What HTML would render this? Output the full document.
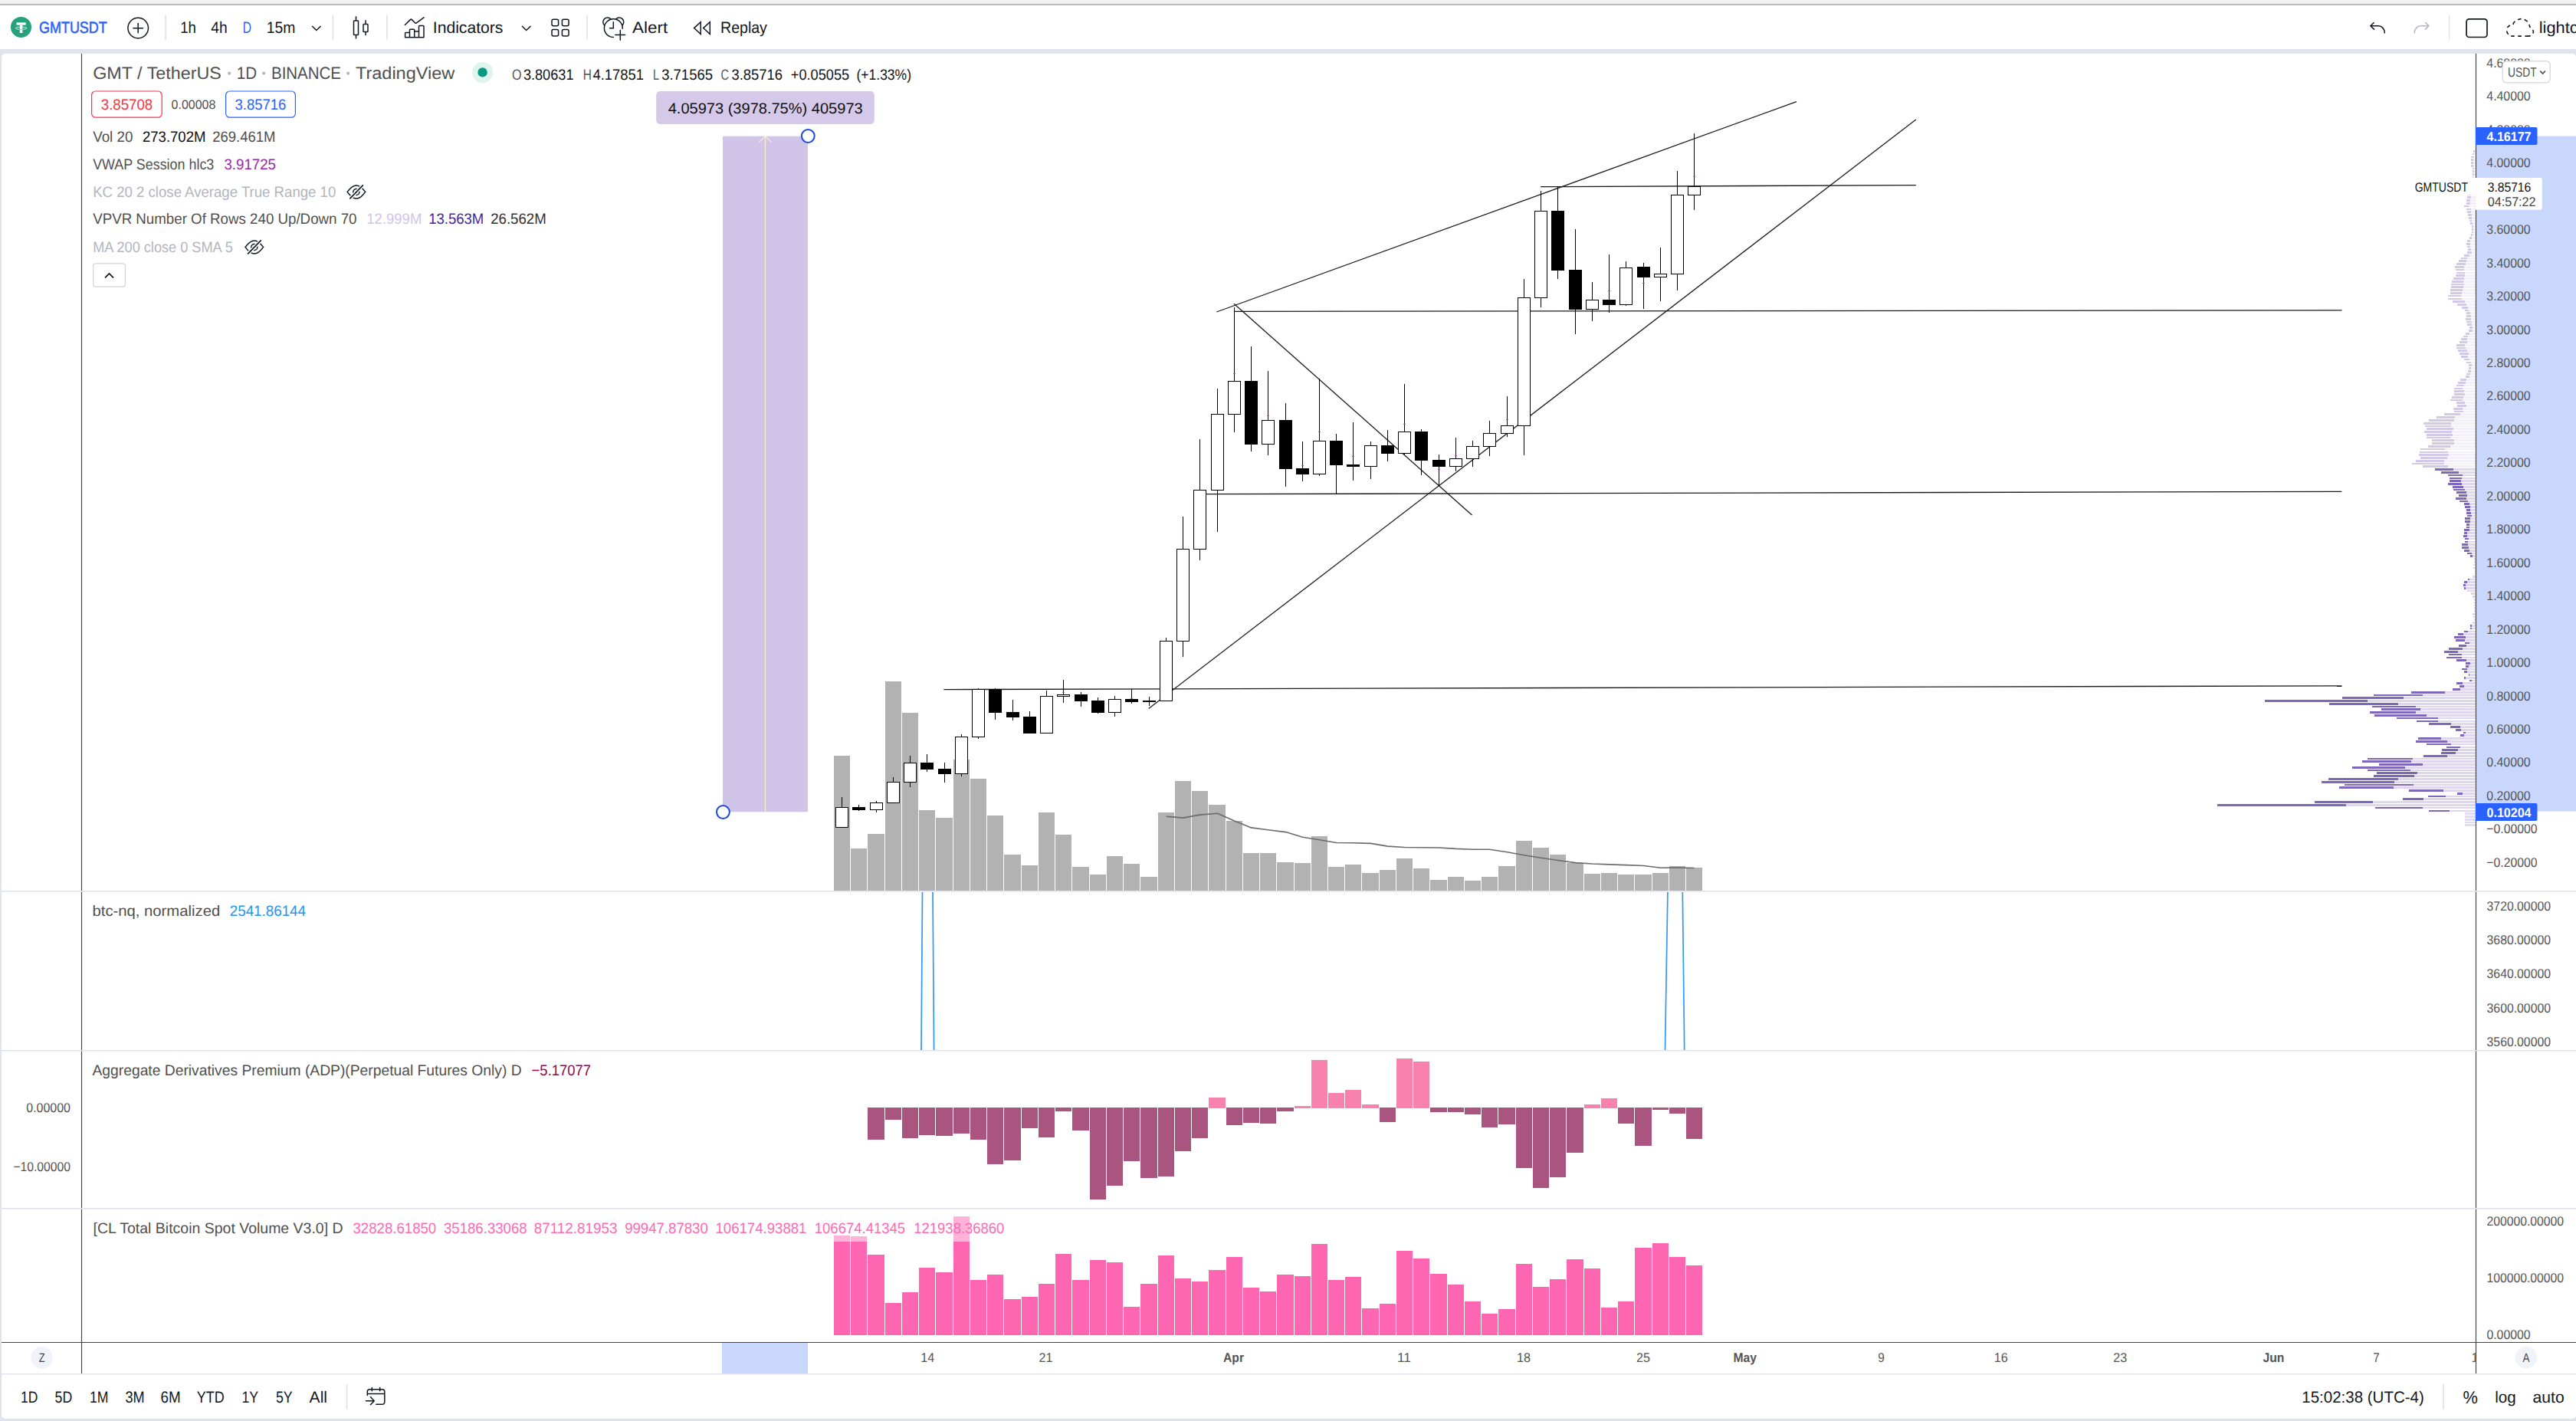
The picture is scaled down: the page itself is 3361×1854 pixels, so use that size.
<!DOCTYPE html>
<html lang="en"><head><meta charset="utf-8"><title>GMTUSDT 3.85716 - TradingView</title>
<style>html,body{margin:0;padding:0;background:#e0e3eb;overflow:hidden}svg{display:block}</style></head>
<body>
<svg width="3361" height="1854" viewBox="0 0 3361 1854" font-family='"Liberation Sans", sans-serif' text-rendering="geometricPrecision">
<rect x="0.00" y="0.00" width="3361.00" height="1854.00" fill="#e0e3eb"/>
<rect x="0.00" y="0.00" width="3361.00" height="5.00" fill="#f1f1f1"/>
<rect x="0.00" y="5.00" width="3361.00" height="2.00" fill="#b9b9b9"/>
<rect x="0.00" y="7.00" width="3361.00" height="57.00" fill="#ffffff"/>
<rect x="2" y="70" width="3359.2" height="1781" rx="5" ry="5" fill="#ffffff"/>
<defs><clipPath id="cm"><rect x="107" y="70" width="3123" height="1092"/></clipPath></defs>
<g shape-rendering="crispEdges">
<rect x="3228.97" y="196.02" width="0.63" height="2.70" fill="#f3f0f9"/>
<rect x="3227.07" y="196.02" width="1.90" height="2.70" fill="#d0c9e7"/>
<rect x="3228.34" y="199.79" width="1.26" height="2.70" fill="#f3f0f9"/>
<rect x="3226.18" y="199.79" width="2.15" height="2.70" fill="#d0c9e7"/>
<rect x="3227.70" y="203.57" width="1.90" height="2.70" fill="#f3f0f9"/>
<rect x="3224.16" y="203.57" width="3.55" height="2.70" fill="#d0c9e7"/>
<rect x="3227.07" y="207.34" width="2.53" height="2.70" fill="#f3f0f9"/>
<rect x="3224.16" y="207.34" width="2.91" height="2.70" fill="#d0c9e7"/>
<rect x="3227.07" y="211.12" width="2.53" height="2.70" fill="#f3f0f9"/>
<rect x="3224.16" y="211.12" width="2.91" height="2.70" fill="#d0c9e7"/>
<rect x="3227.07" y="214.89" width="2.53" height="2.70" fill="#f3f0f9"/>
<rect x="3224.16" y="214.89" width="2.91" height="2.70" fill="#d0c9e7"/>
<rect x="3227.70" y="218.67" width="1.90" height="2.70" fill="#f3f0f9"/>
<rect x="3226.18" y="218.67" width="1.52" height="2.70" fill="#d0c9e7"/>
<rect x="3227.70" y="222.44" width="1.90" height="2.70" fill="#f3f0f9"/>
<rect x="3226.18" y="222.44" width="1.52" height="2.70" fill="#d0c9e7"/>
<rect x="3227.70" y="226.21" width="1.90" height="2.70" fill="#f3f0f9"/>
<rect x="3226.18" y="226.21" width="1.52" height="2.70" fill="#d0c9e7"/>
<rect x="3227.45" y="229.99" width="2.15" height="2.70" fill="#f3f0f9"/>
<rect x="3226.18" y="229.99" width="1.27" height="2.70" fill="#d0c9e7"/>
<rect x="3227.45" y="233.76" width="2.15" height="2.70" fill="#f3f0f9"/>
<rect x="3225.17" y="233.76" width="2.28" height="2.70" fill="#d0c9e7"/>
<rect x="3227.07" y="237.54" width="2.53" height="2.70" fill="#f3f0f9"/>
<rect x="3223.90" y="237.54" width="3.17" height="2.70" fill="#d0c9e7"/>
<rect x="3226.44" y="241.31" width="3.16" height="2.70" fill="#f3f0f9"/>
<rect x="3222.64" y="241.31" width="3.80" height="2.70" fill="#d0c9e7"/>
<rect x="3225.80" y="245.09" width="3.80" height="2.70" fill="#f3f0f9"/>
<rect x="3221.37" y="245.09" width="4.43" height="2.70" fill="#d0c9e7"/>
<rect x="3224.92" y="248.86" width="4.68" height="2.70" fill="#f3f0f9"/>
<rect x="3220.10" y="248.86" width="4.82" height="2.70" fill="#d0c9e7"/>
<rect x="3224.16" y="252.63" width="5.44" height="2.70" fill="#f3f0f9"/>
<rect x="3219.09" y="252.63" width="5.07" height="2.70" fill="#d0c9e7"/>
<rect x="3224.16" y="256.41" width="5.44" height="2.70" fill="#f3f0f9"/>
<rect x="3219.09" y="256.41" width="5.07" height="2.70" fill="#d0c9e7"/>
<rect x="3223.27" y="260.18" width="6.33" height="2.70" fill="#f3f0f9"/>
<rect x="3218.20" y="260.18" width="5.07" height="2.70" fill="#d0c9e7"/>
<rect x="3223.27" y="263.96" width="6.33" height="2.70" fill="#f3f0f9"/>
<rect x="3218.20" y="263.96" width="5.07" height="2.70" fill="#d0c9e7"/>
<rect x="3221.12" y="267.73" width="8.48" height="2.70" fill="#f3f0f9"/>
<rect x="3215.03" y="267.73" width="6.08" height="2.70" fill="#d0c9e7"/>
<rect x="3224.16" y="271.51" width="5.44" height="2.70" fill="#f3f0f9"/>
<rect x="3218.20" y="271.51" width="5.96" height="2.70" fill="#d0c9e7"/>
<rect x="3224.16" y="275.28" width="5.44" height="2.70" fill="#f3f0f9"/>
<rect x="3219.09" y="275.28" width="5.07" height="2.70" fill="#d0c9e7"/>
<rect x="3225.17" y="279.05" width="4.43" height="2.70" fill="#f3f0f9"/>
<rect x="3220.10" y="279.05" width="5.07" height="2.70" fill="#d0c9e7"/>
<rect x="3225.17" y="282.83" width="4.43" height="2.70" fill="#f3f0f9"/>
<rect x="3221.12" y="282.83" width="4.05" height="2.70" fill="#d0c9e7"/>
<rect x="3225.17" y="286.60" width="4.43" height="2.70" fill="#f3f0f9"/>
<rect x="3222.13" y="286.60" width="3.04" height="2.70" fill="#d0c9e7"/>
<rect x="3226.18" y="290.38" width="3.42" height="2.70" fill="#f3f0f9"/>
<rect x="3223.14" y="290.38" width="3.04" height="2.70" fill="#d0c9e7"/>
<rect x="3227.07" y="294.15" width="2.53" height="2.70" fill="#f3f0f9"/>
<rect x="3225.17" y="294.15" width="1.90" height="2.70" fill="#d0c9e7"/>
<rect x="3227.07" y="297.93" width="2.53" height="2.70" fill="#f3f0f9"/>
<rect x="3225.17" y="297.93" width="1.90" height="2.70" fill="#d0c9e7"/>
<rect x="3227.07" y="301.70" width="2.53" height="2.70" fill="#f3f0f9"/>
<rect x="3225.17" y="301.70" width="1.90" height="2.70" fill="#d0c9e7"/>
<rect x="3226.18" y="305.47" width="3.42" height="2.70" fill="#f3f0f9"/>
<rect x="3224.16" y="305.47" width="2.03" height="2.70" fill="#d0c9e7"/>
<rect x="3225.17" y="309.25" width="4.43" height="2.70" fill="#f3f0f9"/>
<rect x="3222.13" y="309.25" width="3.04" height="2.70" fill="#d0c9e7"/>
<rect x="3223.14" y="313.02" width="6.46" height="2.70" fill="#f3f0f9"/>
<rect x="3219.09" y="313.02" width="4.05" height="2.70" fill="#d0c9e7"/>
<rect x="3223.14" y="316.80" width="6.46" height="2.70" fill="#f3f0f9"/>
<rect x="3218.20" y="316.80" width="4.94" height="2.70" fill="#d0c9e7"/>
<rect x="3223.14" y="320.57" width="6.46" height="2.70" fill="#f3f0f9"/>
<rect x="3219.09" y="320.57" width="4.05" height="2.70" fill="#d0c9e7"/>
<rect x="3224.16" y="324.35" width="5.44" height="2.70" fill="#f3f0f9"/>
<rect x="3220.10" y="324.35" width="4.05" height="2.70" fill="#d0c9e7"/>
<rect x="3225.17" y="328.12" width="4.43" height="2.70" fill="#f3f0f9"/>
<rect x="3219.09" y="328.12" width="6.08" height="2.70" fill="#d0c9e7"/>
<rect x="3222.06" y="331.89" width="7.54" height="2.70" fill="#f3f0f9"/>
<rect x="3215.10" y="331.89" width="6.96" height="2.70" fill="#d0c9e7"/>
<rect x="3219.09" y="335.67" width="10.51" height="2.70" fill="#f3f0f9"/>
<rect x="3210.98" y="335.67" width="8.11" height="2.70" fill="#d0c9e7"/>
<rect x="3218.05" y="339.44" width="11.55" height="2.70" fill="#f3f0f9"/>
<rect x="3208.13" y="339.44" width="9.92" height="2.70" fill="#d0c9e7"/>
<rect x="3217.00" y="343.22" width="12.60" height="2.70" fill="#f3f0f9"/>
<rect x="3205.18" y="343.22" width="11.82" height="2.70" fill="#d0c9e7"/>
<rect x="3215.10" y="346.99" width="14.50" height="2.70" fill="#f3f0f9"/>
<rect x="3203.07" y="346.99" width="12.03" height="2.70" fill="#d0c9e7"/>
<rect x="3215.10" y="350.77" width="14.50" height="2.70" fill="#f3f0f9"/>
<rect x="3204.12" y="350.77" width="10.97" height="2.70" fill="#d0c9e7"/>
<rect x="3216.15" y="354.54" width="13.45" height="2.70" fill="#f3f0f9"/>
<rect x="3205.18" y="354.54" width="10.97" height="2.70" fill="#d0c9e7"/>
<rect x="3216.15" y="358.31" width="13.45" height="2.70" fill="#f3f0f9"/>
<rect x="3204.12" y="358.31" width="12.03" height="2.70" fill="#d0c9e7"/>
<rect x="3215.10" y="362.09" width="14.50" height="2.70" fill="#f3f0f9"/>
<rect x="3201.17" y="362.09" width="13.93" height="2.70" fill="#d0c9e7"/>
<rect x="3214.04" y="365.86" width="15.56" height="2.70" fill="#f3f0f9"/>
<rect x="3199.06" y="365.86" width="14.98" height="2.70" fill="#d0c9e7"/>
<rect x="3215.10" y="369.64" width="14.50" height="2.70" fill="#f3f0f9"/>
<rect x="3198.21" y="369.64" width="16.88" height="2.70" fill="#d0c9e7"/>
<rect x="3214.04" y="373.41" width="15.56" height="2.70" fill="#f3f0f9"/>
<rect x="3198.21" y="373.41" width="15.83" height="2.70" fill="#d0c9e7"/>
<rect x="3212.99" y="377.19" width="16.61" height="2.70" fill="#f3f0f9"/>
<rect x="3197.16" y="377.19" width="15.83" height="2.70" fill="#d0c9e7"/>
<rect x="3212.14" y="380.96" width="17.46" height="2.70" fill="#f3f0f9"/>
<rect x="3197.16" y="380.96" width="14.98" height="2.70" fill="#d0c9e7"/>
<rect x="3211.09" y="384.74" width="18.51" height="2.70" fill="#f3f0f9"/>
<rect x="3194.21" y="384.74" width="16.88" height="2.70" fill="#d0c9e7"/>
<rect x="3212.14" y="388.51" width="17.46" height="2.70" fill="#f3f0f9"/>
<rect x="3194.21" y="388.51" width="17.94" height="2.70" fill="#d0c9e7"/>
<rect x="3216.15" y="392.28" width="13.45" height="2.70" fill="#f3f0f9"/>
<rect x="3200.11" y="392.28" width="16.04" height="2.70" fill="#d0c9e7"/>
<rect x="3218.05" y="396.06" width="11.55" height="2.70" fill="#f3f0f9"/>
<rect x="3206.02" y="396.06" width="12.03" height="2.70" fill="#d0c9e7"/>
<rect x="3220.16" y="399.83" width="9.44" height="2.70" fill="#f3f0f9"/>
<rect x="3212.14" y="399.83" width="8.02" height="2.70" fill="#d0c9e7"/>
<rect x="3221.00" y="403.61" width="8.60" height="2.70" fill="#f3f0f9"/>
<rect x="3216.15" y="403.61" width="4.85" height="2.70" fill="#d0c9e7"/>
<rect x="3223.11" y="407.38" width="6.49" height="2.70" fill="#f3f0f9"/>
<rect x="3218.05" y="407.38" width="5.06" height="2.70" fill="#d0c9e7"/>
<rect x="3224.17" y="411.16" width="5.43" height="2.70" fill="#f3f0f9"/>
<rect x="3218.05" y="411.16" width="6.12" height="2.70" fill="#d0c9e7"/>
<rect x="3224.17" y="414.93" width="5.43" height="2.70" fill="#f3f0f9"/>
<rect x="3217.00" y="414.93" width="7.17" height="2.70" fill="#d0c9e7"/>
<rect x="3225.01" y="418.70" width="4.59" height="2.70" fill="#f3f0f9"/>
<rect x="3218.05" y="418.70" width="6.96" height="2.70" fill="#d0c9e7"/>
<rect x="3225.01" y="422.48" width="4.59" height="2.70" fill="#f3f0f9"/>
<rect x="3219.11" y="422.48" width="5.91" height="2.70" fill="#d0c9e7"/>
<rect x="3226.07" y="426.25" width="3.53" height="2.70" fill="#f3f0f9"/>
<rect x="3222.06" y="426.25" width="4.01" height="2.70" fill="#d0c9e7"/>
<rect x="3226.07" y="430.03" width="3.53" height="2.70" fill="#f3f0f9"/>
<rect x="3221.00" y="430.03" width="5.06" height="2.70" fill="#d0c9e7"/>
<rect x="3222.06" y="433.80" width="7.54" height="2.70" fill="#f3f0f9"/>
<rect x="3217.00" y="433.80" width="5.06" height="2.70" fill="#d0c9e7"/>
<rect x="3220.16" y="437.58" width="9.44" height="2.70" fill="#f3f0f9"/>
<rect x="3214.04" y="437.58" width="6.12" height="2.70" fill="#d0c9e7"/>
<rect x="3219.11" y="441.35" width="10.49" height="2.70" fill="#f3f0f9"/>
<rect x="3211.09" y="441.35" width="8.02" height="2.70" fill="#d0c9e7"/>
<rect x="3219.11" y="445.12" width="10.49" height="2.70" fill="#f3f0f9"/>
<rect x="3209.19" y="445.12" width="9.92" height="2.70" fill="#d0c9e7"/>
<rect x="3216.15" y="448.90" width="13.45" height="2.70" fill="#f3f0f9"/>
<rect x="3205.18" y="448.90" width="10.97" height="2.70" fill="#d0c9e7"/>
<rect x="3217.00" y="452.67" width="12.60" height="2.70" fill="#f3f0f9"/>
<rect x="3205.18" y="452.67" width="11.82" height="2.70" fill="#d0c9e7"/>
<rect x="3219.11" y="456.45" width="10.49" height="2.70" fill="#f3f0f9"/>
<rect x="3207.08" y="456.45" width="12.03" height="2.70" fill="#d0c9e7"/>
<rect x="3221.00" y="460.22" width="8.60" height="2.70" fill="#f3f0f9"/>
<rect x="3209.19" y="460.22" width="11.82" height="2.70" fill="#d0c9e7"/>
<rect x="3220.16" y="464.00" width="9.44" height="2.70" fill="#f3f0f9"/>
<rect x="3211.09" y="464.00" width="9.07" height="2.70" fill="#d0c9e7"/>
<rect x="3222.06" y="467.77" width="7.54" height="2.70" fill="#f3f0f9"/>
<rect x="3215.10" y="467.77" width="6.96" height="2.70" fill="#d0c9e7"/>
<rect x="3224.17" y="471.54" width="5.43" height="2.70" fill="#f3f0f9"/>
<rect x="3218.05" y="471.54" width="6.12" height="2.70" fill="#d0c9e7"/>
<rect x="3225.01" y="475.32" width="4.59" height="2.70" fill="#f3f0f9"/>
<rect x="3221.00" y="475.32" width="4.01" height="2.70" fill="#d0c9e7"/>
<rect x="3224.17" y="479.09" width="5.43" height="2.70" fill="#f3f0f9"/>
<rect x="3221.00" y="479.09" width="3.17" height="2.70" fill="#d0c9e7"/>
<rect x="3224.17" y="482.87" width="5.43" height="2.70" fill="#f3f0f9"/>
<rect x="3220.16" y="482.87" width="4.01" height="2.70" fill="#d0c9e7"/>
<rect x="3223.11" y="486.64" width="6.49" height="2.70" fill="#f3f0f9"/>
<rect x="3218.05" y="486.64" width="5.06" height="2.70" fill="#d0c9e7"/>
<rect x="3222.06" y="490.42" width="7.54" height="2.70" fill="#f3f0f9"/>
<rect x="3217.00" y="490.42" width="5.06" height="2.70" fill="#d0c9e7"/>
<rect x="3218.05" y="494.19" width="11.55" height="2.70" fill="#f3f0f9"/>
<rect x="3210.03" y="494.19" width="8.02" height="2.70" fill="#d0c9e7"/>
<rect x="3217.00" y="497.96" width="12.60" height="2.70" fill="#f3f0f9"/>
<rect x="3207.08" y="497.96" width="9.92" height="2.70" fill="#d0c9e7"/>
<rect x="3215.10" y="501.74" width="14.50" height="2.70" fill="#f3f0f9"/>
<rect x="3205.18" y="501.74" width="9.92" height="2.70" fill="#d0c9e7"/>
<rect x="3212.99" y="505.51" width="16.61" height="2.70" fill="#f3f0f9"/>
<rect x="3202.22" y="505.51" width="10.76" height="2.70" fill="#d0c9e7"/>
<rect x="3215.10" y="509.29" width="14.50" height="2.70" fill="#f3f0f9"/>
<rect x="3202.22" y="509.29" width="12.87" height="2.70" fill="#d0c9e7"/>
<rect x="3216.15" y="513.06" width="13.45" height="2.70" fill="#f3f0f9"/>
<rect x="3202.22" y="513.06" width="13.93" height="2.70" fill="#d0c9e7"/>
<rect x="3214.04" y="516.84" width="15.56" height="2.70" fill="#f3f0f9"/>
<rect x="3199.06" y="516.84" width="14.98" height="2.70" fill="#d0c9e7"/>
<rect x="3212.99" y="520.61" width="16.61" height="2.70" fill="#f3f0f9"/>
<rect x="3197.16" y="520.61" width="15.83" height="2.70" fill="#d0c9e7"/>
<rect x="3216.15" y="524.38" width="13.45" height="2.70" fill="#f3f0f9"/>
<rect x="3205.18" y="524.38" width="10.97" height="2.70" fill="#d0c9e7"/>
<rect x="3218.05" y="528.16" width="11.55" height="2.70" fill="#f3f0f9"/>
<rect x="3206.02" y="528.16" width="12.03" height="2.70" fill="#d0c9e7"/>
<rect x="3212.99" y="531.93" width="16.61" height="2.70" fill="#f3f0f9"/>
<rect x="3201.17" y="531.93" width="11.82" height="2.70" fill="#d0c9e7"/>
<rect x="3214.04" y="535.71" width="15.56" height="2.70" fill="#f3f0f9"/>
<rect x="3202.22" y="535.71" width="11.82" height="2.70" fill="#d0c9e7"/>
<rect x="3210.03" y="539.48" width="19.57" height="2.70" fill="#f3f0f9"/>
<rect x="3189.14" y="539.48" width="20.89" height="2.70" fill="#d0c9e7"/>
<rect x="3203.07" y="543.26" width="26.53" height="2.70" fill="#f3f0f9"/>
<rect x="3179.22" y="543.26" width="23.84" height="2.70" fill="#d0c9e7"/>
<rect x="3202.22" y="547.03" width="27.38" height="2.70" fill="#f3f0f9"/>
<rect x="3169.09" y="547.03" width="33.13" height="2.70" fill="#d0c9e7"/>
<rect x="3198.21" y="550.80" width="31.39" height="2.70" fill="#f3f0f9"/>
<rect x="3162.13" y="550.80" width="36.08" height="2.70" fill="#d0c9e7"/>
<rect x="3198.21" y="554.58" width="31.39" height="2.70" fill="#f3f0f9"/>
<rect x="3164.24" y="554.58" width="33.97" height="2.70" fill="#d0c9e7"/>
<rect x="3201.17" y="558.35" width="28.43" height="2.70" fill="#f3f0f9"/>
<rect x="3166.14" y="558.35" width="35.03" height="2.70" fill="#d0c9e7"/>
<rect x="3199.06" y="562.13" width="30.54" height="2.70" fill="#f3f0f9"/>
<rect x="3163.19" y="562.13" width="35.87" height="2.70" fill="#d0c9e7"/>
<rect x="3200.11" y="565.90" width="29.49" height="2.70" fill="#f3f0f9"/>
<rect x="3166.14" y="565.90" width="33.97" height="2.70" fill="#d0c9e7"/>
<rect x="3197.16" y="569.68" width="32.44" height="2.70" fill="#f3f0f9"/>
<rect x="3166.14" y="569.68" width="31.02" height="2.70" fill="#d0c9e7"/>
<rect x="3202.22" y="573.45" width="27.38" height="2.70" fill="#f3f0f9"/>
<rect x="3173.10" y="573.45" width="29.12" height="2.70" fill="#d0c9e7"/>
<rect x="3202.22" y="577.22" width="27.38" height="2.70" fill="#f3f0f9"/>
<rect x="3173.10" y="577.22" width="29.12" height="2.70" fill="#d0c9e7"/>
<rect x="3197.16" y="581.00" width="32.44" height="2.70" fill="#f3f0f9"/>
<rect x="3168.25" y="581.00" width="28.91" height="2.70" fill="#d0c9e7"/>
<rect x="3190.20" y="584.77" width="39.40" height="2.70" fill="#f3f0f9"/>
<rect x="3158.12" y="584.77" width="32.07" height="2.70" fill="#d0c9e7"/>
<rect x="3194.21" y="588.55" width="35.39" height="2.70" fill="#f3f0f9"/>
<rect x="3157.07" y="588.55" width="37.14" height="2.70" fill="#d0c9e7"/>
<rect x="3195.05" y="592.32" width="34.55" height="2.70" fill="#f3f0f9"/>
<rect x="3156.22" y="592.32" width="38.83" height="2.70" fill="#d0c9e7"/>
<rect x="3193.15" y="596.10" width="36.45" height="2.70" fill="#f3f0f9"/>
<rect x="3158.12" y="596.10" width="35.03" height="2.70" fill="#d0c9e7"/>
<rect x="3189.14" y="599.87" width="40.46" height="2.70" fill="#f3f0f9"/>
<rect x="3152.21" y="599.87" width="36.93" height="2.70" fill="#d0c9e7"/>
<rect x="3189.14" y="603.64" width="40.46" height="2.70" fill="#f3f0f9"/>
<rect x="3147.15" y="603.64" width="41.99" height="2.70" fill="#d0c9e7"/>
<rect x="3194.21" y="607.42" width="35.39" height="2.70" fill="#f3f0f9"/>
<rect x="3161.29" y="607.42" width="32.92" height="2.70" fill="#d0c9e7"/>
<rect x="3200.96" y="611.19" width="28.64" height="2.70" fill="#dfd6f0"/>
<rect x="3177.11" y="611.19" width="23.84" height="2.70" fill="#7d68bc"/>
<rect x="3208.13" y="614.97" width="21.47" height="2.70" fill="#dfd6f0"/>
<rect x="3185.13" y="614.97" width="23.00" height="2.70" fill="#7d68bc"/>
<rect x="3212.99" y="618.74" width="16.61" height="2.70" fill="#dfd6f0"/>
<rect x="3193.99" y="618.74" width="18.99" height="2.70" fill="#7d68bc"/>
<rect x="3211.93" y="622.52" width="17.67" height="2.70" fill="#dfd6f0"/>
<rect x="3196.10" y="622.52" width="15.83" height="2.70" fill="#7d68bc"/>
<rect x="3211.09" y="626.29" width="18.51" height="2.70" fill="#dfd6f0"/>
<rect x="3196.10" y="626.29" width="14.98" height="2.70" fill="#7d68bc"/>
<rect x="3211.93" y="630.06" width="17.67" height="2.70" fill="#dfd6f0"/>
<rect x="3193.99" y="630.06" width="17.94" height="2.70" fill="#7d68bc"/>
<rect x="3214.04" y="633.84" width="15.56" height="2.70" fill="#dfd6f0"/>
<rect x="3200.11" y="633.84" width="13.93" height="2.70" fill="#7d68bc"/>
<rect x="3215.94" y="637.61" width="13.66" height="2.70" fill="#dfd6f0"/>
<rect x="3201.17" y="637.61" width="14.77" height="2.70" fill="#7d68bc"/>
<rect x="3218.05" y="641.39" width="11.55" height="2.70" fill="#dfd6f0"/>
<rect x="3205.18" y="641.39" width="12.87" height="2.70" fill="#7d68bc"/>
<rect x="3219.11" y="645.16" width="10.49" height="2.70" fill="#dfd6f0"/>
<rect x="3208.13" y="645.16" width="10.97" height="2.70" fill="#7d68bc"/>
<rect x="3218.05" y="648.94" width="11.55" height="2.70" fill="#dfd6f0"/>
<rect x="3204.12" y="648.94" width="13.93" height="2.70" fill="#7d68bc"/>
<rect x="3219.95" y="652.71" width="9.65" height="2.70" fill="#dfd6f0"/>
<rect x="3209.19" y="652.71" width="10.76" height="2.70" fill="#7d68bc"/>
<rect x="3222.06" y="656.48" width="7.54" height="2.70" fill="#dfd6f0"/>
<rect x="3215.10" y="656.48" width="6.96" height="2.70" fill="#7d68bc"/>
<rect x="3223.11" y="660.26" width="6.49" height="2.70" fill="#dfd6f0"/>
<rect x="3216.15" y="660.26" width="6.96" height="2.70" fill="#7d68bc"/>
<rect x="3223.11" y="664.03" width="6.49" height="2.70" fill="#dfd6f0"/>
<rect x="3218.05" y="664.03" width="5.06" height="2.70" fill="#7d68bc"/>
<rect x="3223.96" y="667.81" width="5.64" height="2.70" fill="#dfd6f0"/>
<rect x="3218.05" y="667.81" width="5.91" height="2.70" fill="#7d68bc"/>
<rect x="3225.01" y="671.58" width="4.59" height="2.70" fill="#dfd6f0"/>
<rect x="3219.11" y="671.58" width="5.91" height="2.70" fill="#7d68bc"/>
<rect x="3223.11" y="675.36" width="6.49" height="2.70" fill="#dfd6f0"/>
<rect x="3216.15" y="675.36" width="6.96" height="2.70" fill="#7d68bc"/>
<rect x="3223.11" y="679.13" width="6.49" height="2.70" fill="#dfd6f0"/>
<rect x="3216.15" y="679.13" width="6.96" height="2.70" fill="#7d68bc"/>
<rect x="3222.06" y="682.90" width="7.54" height="2.70" fill="#dfd6f0"/>
<rect x="3218.05" y="682.90" width="4.01" height="2.70" fill="#7d68bc"/>
<rect x="3222.06" y="686.68" width="7.54" height="2.70" fill="#dfd6f0"/>
<rect x="3218.05" y="686.68" width="4.01" height="2.70" fill="#7d68bc"/>
<rect x="3222.06" y="690.45" width="7.54" height="2.70" fill="#dfd6f0"/>
<rect x="3215.10" y="690.45" width="6.96" height="2.70" fill="#7d68bc"/>
<rect x="3219.11" y="694.23" width="10.49" height="2.70" fill="#dfd6f0"/>
<rect x="3215.10" y="694.23" width="4.01" height="2.70" fill="#7d68bc"/>
<rect x="3219.11" y="698.00" width="10.49" height="2.70" fill="#dfd6f0"/>
<rect x="3214.04" y="698.00" width="5.06" height="2.70" fill="#7d68bc"/>
<rect x="3221.00" y="701.78" width="8.60" height="2.70" fill="#dfd6f0"/>
<rect x="3216.15" y="701.78" width="4.85" height="2.70" fill="#7d68bc"/>
<rect x="3219.95" y="705.55" width="9.65" height="2.70" fill="#dfd6f0"/>
<rect x="3216.15" y="705.55" width="3.80" height="2.70" fill="#7d68bc"/>
<rect x="3219.95" y="709.32" width="9.65" height="2.70" fill="#dfd6f0"/>
<rect x="3212.14" y="709.32" width="7.81" height="2.70" fill="#7d68bc"/>
<rect x="3221.00" y="713.10" width="8.60" height="2.70" fill="#dfd6f0"/>
<rect x="3212.14" y="713.10" width="8.86" height="2.70" fill="#7d68bc"/>
<rect x="3222.06" y="716.87" width="7.54" height="2.70" fill="#dfd6f0"/>
<rect x="3215.10" y="716.87" width="6.96" height="2.70" fill="#7d68bc"/>
<rect x="3225.01" y="720.65" width="4.59" height="2.70" fill="#dfd6f0"/>
<rect x="3219.11" y="720.65" width="5.91" height="2.70" fill="#7d68bc"/>
<rect x="3226.07" y="724.42" width="3.53" height="2.70" fill="#dfd6f0"/>
<rect x="3223.11" y="724.42" width="2.95" height="2.70" fill="#7d68bc"/>
<rect x="3228.18" y="728.20" width="1.42" height="2.70" fill="#dfd6f0"/>
<rect x="3228.18" y="731.97" width="1.42" height="2.70" fill="#dfd6f0"/>
<rect x="3227.12" y="735.74" width="2.48" height="2.70" fill="#dfd6f0"/>
<rect x="3227.12" y="739.52" width="2.48" height="2.70" fill="#dfd6f0"/>
<rect x="3229.23" y="743.29" width="0.37" height="2.70" fill="#dfd6f0"/>
<rect x="3229.23" y="747.07" width="0.37" height="2.70" fill="#dfd6f0"/>
<rect x="3226.07" y="750.84" width="3.53" height="2.70" fill="#dfd6f0"/>
<rect x="3222.06" y="754.62" width="7.54" height="2.70" fill="#dfd6f0"/>
<rect x="3220.16" y="754.62" width="1.90" height="2.70" fill="#7d68bc"/>
<rect x="3219.11" y="758.39" width="10.49" height="2.70" fill="#dfd6f0"/>
<rect x="3215.10" y="758.39" width="4.01" height="2.70" fill="#7d68bc"/>
<rect x="3217.00" y="762.16" width="12.60" height="2.70" fill="#dfd6f0"/>
<rect x="3214.04" y="762.16" width="2.95" height="2.70" fill="#7d68bc"/>
<rect x="3217.00" y="765.94" width="12.60" height="2.70" fill="#dfd6f0"/>
<rect x="3215.10" y="765.94" width="1.90" height="2.70" fill="#7d68bc"/>
<rect x="3219.11" y="769.71" width="10.49" height="2.70" fill="#dfd6f0"/>
<rect x="3224.17" y="773.49" width="5.43" height="2.70" fill="#dfd6f0"/>
<rect x="3226.07" y="777.26" width="3.53" height="2.70" fill="#dfd6f0"/>
<rect x="3228.18" y="781.04" width="1.42" height="2.70" fill="#dfd6f0"/>
<rect x="3228.18" y="784.81" width="1.42" height="2.70" fill="#dfd6f0"/>
<rect x="3228.18" y="788.59" width="1.42" height="2.70" fill="#dfd6f0"/>
<rect x="3228.18" y="792.36" width="1.42" height="2.70" fill="#dfd6f0"/>
<rect x="3228.18" y="796.13" width="1.42" height="2.70" fill="#dfd6f0"/>
<rect x="3226.07" y="799.91" width="3.53" height="2.70" fill="#dfd6f0"/>
<rect x="3227.12" y="803.68" width="2.48" height="2.70" fill="#dfd6f0"/>
<rect x="3228.18" y="807.46" width="1.42" height="2.70" fill="#dfd6f0"/>
<rect x="3226.07" y="811.23" width="3.53" height="2.70" fill="#dfd6f0"/>
<rect x="3225.01" y="815.01" width="4.59" height="2.70" fill="#dfd6f0"/>
<rect x="3223.11" y="815.01" width="1.90" height="2.70" fill="#7d68bc"/>
<rect x="3225.01" y="818.78" width="4.59" height="2.70" fill="#dfd6f0"/>
<rect x="3223.11" y="818.78" width="1.90" height="2.70" fill="#7d68bc"/>
<rect x="3219.95" y="822.55" width="9.65" height="2.70" fill="#dfd6f0"/>
<rect x="3215.10" y="822.55" width="4.85" height="2.70" fill="#7d68bc"/>
<rect x="3214.04" y="826.33" width="15.56" height="2.70" fill="#dfd6f0"/>
<rect x="3207.08" y="826.33" width="6.96" height="2.70" fill="#7d68bc"/>
<rect x="3217.00" y="830.10" width="12.60" height="2.70" fill="#dfd6f0"/>
<rect x="3202.22" y="830.10" width="14.77" height="2.70" fill="#7d68bc"/>
<rect x="3216.15" y="833.88" width="13.45" height="2.70" fill="#dfd6f0"/>
<rect x="3204.12" y="833.88" width="12.03" height="2.70" fill="#7d68bc"/>
<rect x="3222.06" y="837.65" width="7.54" height="2.70" fill="#dfd6f0"/>
<rect x="3216.15" y="837.65" width="5.91" height="2.70" fill="#7d68bc"/>
<rect x="3218.05" y="841.43" width="11.55" height="2.70" fill="#dfd6f0"/>
<rect x="3208.13" y="841.43" width="9.92" height="2.70" fill="#7d68bc"/>
<rect x="3212.99" y="845.20" width="16.61" height="2.70" fill="#dfd6f0"/>
<rect x="3195.05" y="845.20" width="17.94" height="2.70" fill="#7d68bc"/>
<rect x="3207.08" y="848.97" width="22.52" height="2.70" fill="#dfd6f0"/>
<rect x="3189.14" y="848.97" width="17.94" height="2.70" fill="#7d68bc"/>
<rect x="3212.14" y="852.75" width="17.46" height="2.70" fill="#dfd6f0"/>
<rect x="3195.05" y="852.75" width="17.09" height="2.70" fill="#7d68bc"/>
<rect x="3212.14" y="856.52" width="17.46" height="2.70" fill="#dfd6f0"/>
<rect x="3192.10" y="856.52" width="20.05" height="2.70" fill="#7d68bc"/>
<rect x="3218.05" y="860.30" width="11.55" height="2.70" fill="#dfd6f0"/>
<rect x="3205.18" y="860.30" width="12.87" height="2.70" fill="#7d68bc"/>
<rect x="3223.11" y="864.07" width="6.49" height="2.70" fill="#dfd6f0"/>
<rect x="3217.00" y="864.07" width="6.12" height="2.70" fill="#7d68bc"/>
<rect x="3221.00" y="867.85" width="8.60" height="2.70" fill="#dfd6f0"/>
<rect x="3217.00" y="867.85" width="4.01" height="2.70" fill="#7d68bc"/>
<rect x="3219.11" y="871.62" width="10.49" height="2.70" fill="#dfd6f0"/>
<rect x="3212.14" y="871.62" width="6.96" height="2.70" fill="#7d68bc"/>
<rect x="3219.11" y="875.39" width="10.49" height="2.70" fill="#dfd6f0"/>
<rect x="3215.10" y="875.39" width="4.01" height="2.70" fill="#7d68bc"/>
<rect x="3222.21" y="879.17" width="7.39" height="2.70" fill="#dfd6f0"/>
<rect x="3221.13" y="879.17" width="1.08" height="2.70" fill="#7d68bc"/>
<rect x="3217.26" y="882.94" width="12.34" height="2.70" fill="#dfd6f0"/>
<rect x="3214.93" y="882.94" width="2.32" height="2.70" fill="#7d68bc"/>
<rect x="3225.31" y="886.72" width="4.29" height="2.70" fill="#dfd6f0"/>
<rect x="3222.21" y="886.72" width="3.10" height="2.70" fill="#7d68bc"/>
<rect x="3213.23" y="890.49" width="16.37" height="2.70" fill="#dfd6f0"/>
<rect x="3204.87" y="890.49" width="8.36" height="2.70" fill="#7d68bc"/>
<rect x="3215.24" y="894.27" width="14.36" height="2.70" fill="#dfd6f0"/>
<rect x="3209.05" y="894.27" width="6.19" height="2.70" fill="#7d68bc"/>
<rect x="3210.13" y="898.04" width="19.47" height="2.70" fill="#dfd6f0"/>
<rect x="3200.07" y="898.04" width="10.07" height="2.70" fill="#7d68bc"/>
<rect x="3190.16" y="901.81" width="39.44" height="2.70" fill="#dfd6f0"/>
<rect x="3146.03" y="901.81" width="44.13" height="2.70" fill="#7d68bc"/>
<rect x="3161.05" y="905.59" width="68.55" height="2.70" fill="#dfd6f0"/>
<rect x="3097.10" y="905.59" width="63.95" height="2.70" fill="#7d68bc"/>
<rect x="3135.96" y="909.36" width="93.64" height="2.70" fill="#dfd6f0"/>
<rect x="3056.06" y="909.36" width="79.90" height="2.70" fill="#7d68bc"/>
<rect x="3089.04" y="913.14" width="140.56" height="2.70" fill="#dfd6f0"/>
<rect x="2955.10" y="913.14" width="133.94" height="2.70" fill="#7d68bc"/>
<rect x="3128.99" y="916.91" width="100.61" height="2.70" fill="#dfd6f0"/>
<rect x="3039.03" y="916.91" width="89.97" height="2.70" fill="#7d68bc"/>
<rect x="3152.07" y="920.69" width="77.53" height="2.70" fill="#dfd6f0"/>
<rect x="3095.08" y="920.69" width="56.98" height="2.70" fill="#7d68bc"/>
<rect x="3158.10" y="924.46" width="71.50" height="2.70" fill="#dfd6f0"/>
<rect x="3107.01" y="924.46" width="51.10" height="2.70" fill="#7d68bc"/>
<rect x="3152.07" y="928.23" width="77.53" height="2.70" fill="#dfd6f0"/>
<rect x="3091.99" y="928.23" width="60.08" height="2.70" fill="#7d68bc"/>
<rect x="3166.00" y="932.01" width="63.60" height="2.70" fill="#dfd6f0"/>
<rect x="3098.02" y="932.01" width="67.98" height="2.70" fill="#7d68bc"/>
<rect x="3181.02" y="935.78" width="48.58" height="2.70" fill="#dfd6f0"/>
<rect x="3126.98" y="935.78" width="54.04" height="2.70" fill="#7d68bc"/>
<rect x="3181.02" y="939.56" width="48.58" height="2.70" fill="#dfd6f0"/>
<rect x="3152.99" y="939.56" width="28.03" height="2.70" fill="#7d68bc"/>
<rect x="3198.06" y="943.33" width="31.54" height="2.70" fill="#dfd6f0"/>
<rect x="3168.94" y="943.33" width="29.11" height="2.70" fill="#7d68bc"/>
<rect x="3210.13" y="947.11" width="19.47" height="2.70" fill="#dfd6f0"/>
<rect x="3196.97" y="947.11" width="13.16" height="2.70" fill="#7d68bc"/>
<rect x="3211.06" y="950.88" width="18.54" height="2.70" fill="#dfd6f0"/>
<rect x="3204.09" y="950.88" width="6.97" height="2.70" fill="#7d68bc"/>
<rect x="3217.10" y="954.65" width="12.50" height="2.70" fill="#dfd6f0"/>
<rect x="3214.00" y="954.65" width="3.10" height="2.70" fill="#7d68bc"/>
<rect x="3215.24" y="958.43" width="14.36" height="2.70" fill="#dfd6f0"/>
<rect x="3209.98" y="958.43" width="5.26" height="2.70" fill="#7d68bc"/>
<rect x="3185.05" y="962.20" width="44.55" height="2.70" fill="#dfd6f0"/>
<rect x="3155.01" y="962.20" width="30.04" height="2.70" fill="#7d68bc"/>
<rect x="3193.10" y="965.98" width="36.50" height="2.70" fill="#dfd6f0"/>
<rect x="3152.07" y="965.98" width="41.03" height="2.70" fill="#7d68bc"/>
<rect x="3198.06" y="969.75" width="31.54" height="2.70" fill="#dfd6f0"/>
<rect x="3166.00" y="969.75" width="32.05" height="2.70" fill="#7d68bc"/>
<rect x="3210.13" y="973.53" width="19.47" height="2.70" fill="#dfd6f0"/>
<rect x="3192.02" y="973.53" width="18.12" height="2.70" fill="#7d68bc"/>
<rect x="3207.04" y="977.30" width="22.56" height="2.70" fill="#dfd6f0"/>
<rect x="3185.98" y="977.30" width="21.06" height="2.70" fill="#7d68bc"/>
<rect x="3204.09" y="981.07" width="25.51" height="2.70" fill="#dfd6f0"/>
<rect x="3185.05" y="981.07" width="19.05" height="2.70" fill="#7d68bc"/>
<rect x="3193.10" y="984.85" width="36.50" height="2.70" fill="#dfd6f0"/>
<rect x="3161.98" y="984.85" width="31.12" height="2.70" fill="#7d68bc"/>
<rect x="3148.04" y="988.62" width="81.56" height="2.70" fill="#dfd6f0"/>
<rect x="3089.04" y="988.62" width="59.00" height="2.70" fill="#7d68bc"/>
<rect x="3146.03" y="992.40" width="83.57" height="2.70" fill="#dfd6f0"/>
<rect x="3082.07" y="992.40" width="63.95" height="2.70" fill="#7d68bc"/>
<rect x="3161.05" y="996.17" width="68.55" height="2.70" fill="#dfd6f0"/>
<rect x="3104.06" y="996.17" width="56.98" height="2.70" fill="#7d68bc"/>
<rect x="3138.13" y="999.95" width="91.47" height="2.70" fill="#dfd6f0"/>
<rect x="3069.07" y="999.95" width="69.06" height="2.70" fill="#7d68bc"/>
<rect x="3145.10" y="1003.72" width="84.50" height="2.70" fill="#dfd6f0"/>
<rect x="3089.04" y="1003.72" width="56.05" height="2.70" fill="#7d68bc"/>
<rect x="3154.08" y="1007.49" width="75.52" height="2.70" fill="#dfd6f0"/>
<rect x="3100.97" y="1007.49" width="53.11" height="2.70" fill="#7d68bc"/>
<rect x="3150.05" y="1011.27" width="79.55" height="2.70" fill="#dfd6f0"/>
<rect x="3097.10" y="1011.27" width="52.96" height="2.70" fill="#7d68bc"/>
<rect x="3128.99" y="1015.04" width="100.61" height="2.70" fill="#dfd6f0"/>
<rect x="3037.94" y="1015.04" width="91.05" height="2.70" fill="#7d68bc"/>
<rect x="3124.04" y="1018.82" width="105.56" height="2.70" fill="#dfd6f0"/>
<rect x="3028.96" y="1018.82" width="95.08" height="2.70" fill="#7d68bc"/>
<rect x="3149.12" y="1022.59" width="80.48" height="2.70" fill="#dfd6f0"/>
<rect x="3059.00" y="1022.59" width="90.12" height="2.70" fill="#7d68bc"/>
<rect x="3123.11" y="1026.37" width="106.49" height="2.70" fill="#dfd6f0"/>
<rect x="3052.03" y="1026.37" width="71.07" height="2.70" fill="#7d68bc"/>
<rect x="3188.14" y="1030.14" width="41.46" height="2.70" fill="#dfd6f0"/>
<rect x="3142.93" y="1030.14" width="45.22" height="2.70" fill="#7d68bc"/>
<rect x="3213.08" y="1033.91" width="16.52" height="2.70" fill="#dfd6f0"/>
<rect x="3205.95" y="1033.91" width="7.12" height="2.70" fill="#7d68bc"/>
<rect x="3191.09" y="1037.69" width="38.51" height="2.70" fill="#dfd6f0"/>
<rect x="3168.01" y="1037.69" width="23.07" height="2.70" fill="#7d68bc"/>
<rect x="3162.13" y="1041.46" width="67.47" height="2.70" fill="#dfd6f0"/>
<rect x="3135.03" y="1041.46" width="27.10" height="2.70" fill="#7d68bc"/>
<rect x="3096.01" y="1045.24" width="133.59" height="2.70" fill="#dfd6f0"/>
<rect x="3019.98" y="1045.24" width="76.03" height="2.70" fill="#7d68bc"/>
<rect x="3061.02" y="1049.01" width="168.58" height="2.70" fill="#dfd6f0"/>
<rect x="2893.01" y="1049.01" width="168.01" height="2.70" fill="#7d68bc"/>
<rect x="3161.05" y="1052.79" width="68.55" height="2.70" fill="#dfd6f0"/>
<rect x="3098.95" y="1052.79" width="62.09" height="2.70" fill="#7d68bc"/>
<rect x="3196.04" y="1056.56" width="33.56" height="2.70" fill="#dfd6f0"/>
<rect x="3168.94" y="1056.56" width="27.10" height="2.70" fill="#7d68bc"/>
<rect x="3216.02" y="1060.33" width="13.58" height="2.70" fill="#e2dcf2"/>
<rect x="3216.02" y="1064.11" width="13.58" height="2.70" fill="#e2dcf2"/>
<rect x="3216.02" y="1067.88" width="13.58" height="2.70" fill="#e2dcf2"/>
<rect x="3216.02" y="1071.66" width="13.58" height="2.70" fill="#e2dcf2"/>
<rect x="3216.02" y="1075.43" width="13.58" height="2.70" fill="#e2dcf2"/>
</g>
<rect x="943.00" y="177.50" width="111.00" height="882.00" fill="#d0c4e8"/>
<line x1="943.00" y1="177.50" x2="1054.00" y2="177.50" stroke="#ffeccb" stroke-width="1.2"/>
<line x1="943.00" y1="1059.50" x2="1054.00" y2="1059.50" stroke="#ffeccb" stroke-width="1.2"/>
<line x1="998.50" y1="177.50" x2="998.50" y2="1059.50" stroke="#ffeccb" stroke-width="1.2"/>
<path d="M990.5 185.5 L998.5 177.5 L1006.5 185.5" fill="none" stroke="#ffeccb" stroke-width="1.2"/>
<g shape-rendering="crispEdges">
<rect x="1088.00" y="986.00" width="21.00" height="176.00" fill="#b2b2b2"/>
<rect x="1110.00" y="1107.20" width="21.00" height="54.80" fill="#b2b2b2"/>
<rect x="1132.00" y="1088.10" width="22.00" height="73.90" fill="#b2b2b2"/>
<rect x="1155.00" y="889.10" width="21.00" height="272.90" fill="#b2b2b2"/>
<rect x="1177.00" y="929.90" width="21.00" height="232.10" fill="#b2b2b2"/>
<rect x="1199.00" y="1057.10" width="21.00" height="104.90" fill="#b2b2b2"/>
<rect x="1221.00" y="1067.10" width="22.00" height="94.90" fill="#b2b2b2"/>
<rect x="1244.00" y="991.00" width="21.00" height="171.00" fill="#b2b2b2"/>
<rect x="1266.00" y="1016.10" width="21.00" height="145.90" fill="#b2b2b2"/>
<rect x="1288.00" y="1064.10" width="21.00" height="97.90" fill="#b2b2b2"/>
<rect x="1310.00" y="1115.10" width="22.00" height="46.90" fill="#b2b2b2"/>
<rect x="1333.00" y="1129.00" width="21.00" height="33.00" fill="#b2b2b2"/>
<rect x="1355.00" y="1060.10" width="21.00" height="101.90" fill="#b2b2b2"/>
<rect x="1377.00" y="1089.00" width="21.00" height="73.00" fill="#b2b2b2"/>
<rect x="1399.00" y="1131.10" width="22.00" height="30.90" fill="#b2b2b2"/>
<rect x="1422.00" y="1141.20" width="21.00" height="20.80" fill="#b2b2b2"/>
<rect x="1444.00" y="1117.20" width="21.00" height="44.80" fill="#b2b2b2"/>
<rect x="1466.00" y="1127.20" width="21.00" height="34.80" fill="#b2b2b2"/>
<rect x="1488.00" y="1144.20" width="22.00" height="17.80" fill="#b2b2b2"/>
<rect x="1511.00" y="1060.10" width="21.00" height="101.90" fill="#b2b2b2"/>
<rect x="1533.00" y="1019.10" width="21.00" height="142.90" fill="#b2b2b2"/>
<rect x="1555.00" y="1032.10" width="21.00" height="129.90" fill="#b2b2b2"/>
<rect x="1577.00" y="1050.10" width="22.00" height="111.90" fill="#b2b2b2"/>
<rect x="1600.00" y="1071.00" width="21.00" height="91.00" fill="#b2b2b2"/>
<rect x="1622.00" y="1113.20" width="21.00" height="48.80" fill="#b2b2b2"/>
<rect x="1644.00" y="1113.20" width="21.00" height="48.80" fill="#b2b2b2"/>
<rect x="1666.00" y="1125.10" width="22.00" height="36.90" fill="#b2b2b2"/>
<rect x="1689.00" y="1126.00" width="21.00" height="36.00" fill="#b2b2b2"/>
<rect x="1711.00" y="1091.10" width="21.00" height="70.90" fill="#b2b2b2"/>
<rect x="1733.00" y="1131.10" width="21.00" height="30.90" fill="#b2b2b2"/>
<rect x="1755.00" y="1128.10" width="21.00" height="33.90" fill="#b2b2b2"/>
<rect x="1777.00" y="1139.10" width="22.00" height="22.90" fill="#b2b2b2"/>
<rect x="1800.00" y="1135.10" width="21.00" height="26.90" fill="#b2b2b2"/>
<rect x="1822.00" y="1120.20" width="21.00" height="41.80" fill="#b2b2b2"/>
<rect x="1844.00" y="1133.00" width="21.00" height="29.00" fill="#b2b2b2"/>
<rect x="1866.00" y="1148.10" width="22.00" height="13.90" fill="#b2b2b2"/>
<rect x="1889.00" y="1144.20" width="21.00" height="17.80" fill="#b2b2b2"/>
<rect x="1911.00" y="1149.10" width="21.00" height="12.90" fill="#b2b2b2"/>
<rect x="1933.00" y="1144.20" width="21.00" height="17.80" fill="#b2b2b2"/>
<rect x="1955.00" y="1130.20" width="22.00" height="31.80" fill="#b2b2b2"/>
<rect x="1978.00" y="1097.10" width="21.00" height="64.90" fill="#b2b2b2"/>
<rect x="2000.00" y="1106.20" width="21.00" height="55.80" fill="#b2b2b2"/>
<rect x="2022.00" y="1115.10" width="21.00" height="46.90" fill="#b2b2b2"/>
<rect x="2044.00" y="1126.00" width="22.00" height="36.00" fill="#b2b2b2"/>
<rect x="2067.00" y="1140.00" width="21.00" height="22.00" fill="#b2b2b2"/>
<rect x="2089.00" y="1139.10" width="21.00" height="22.90" fill="#b2b2b2"/>
<rect x="2111.00" y="1141.20" width="21.00" height="20.80" fill="#b2b2b2"/>
<rect x="2133.00" y="1141.20" width="22.00" height="20.80" fill="#b2b2b2"/>
<rect x="2156.00" y="1139.10" width="21.00" height="22.90" fill="#b2b2b2"/>
<rect x="2178.00" y="1130.20" width="21.00" height="31.80" fill="#b2b2b2"/>
<rect x="2200.00" y="1132.10" width="21.00" height="29.90" fill="#b2b2b2"/>
</g>
<line x1="1231.40" y1="899.60" x2="3055.50" y2="894.80" stroke="#1c1c1c" stroke-width="1.3"/>
<line x1="1573.40" y1="644.70" x2="3055.30" y2="641.30" stroke="#1c1c1c" stroke-width="1.3"/>
<line x1="1610.40" y1="406.30" x2="3055.50" y2="404.90" stroke="#1c1c1c" stroke-width="1.3"/>
<line x1="2010.10" y1="243.70" x2="2499.80" y2="241.60" stroke="#1c1c1c" stroke-width="1.3"/>
<line x1="1587.40" y1="407.00" x2="2344.00" y2="132.60" stroke="#1c1c1c" stroke-width="1.3"/>
<line x1="1498.70" y1="924.40" x2="2499.80" y2="156.10" stroke="#1c1c1c" stroke-width="1.3"/>
<line x1="1610.00" y1="396.20" x2="1920.50" y2="672.00" stroke="#1c1c1c" stroke-width="1.3"/>
<g shape-rendering="crispEdges">
<rect x="1098.00" y="1040.00" width="1.40" height="40.00" fill="#000"/>
<rect x="1090.00" y="1053.00" width="17.00" height="27.00" fill="#000"/>
<rect x="1091.10" y="1054.10" width="14.80" height="24.80" fill="#fff"/>
<rect x="1120.00" y="1050.00" width="1.40" height="8.00" fill="#000"/>
<rect x="1112.00" y="1053.00" width="17.00" height="4.00" fill="#000"/>
<rect x="1143.00" y="1045.00" width="1.40" height="15.00" fill="#000"/>
<rect x="1135.00" y="1047.00" width="17.00" height="10.00" fill="#000"/>
<rect x="1136.10" y="1048.10" width="14.80" height="7.80" fill="#fff"/>
<rect x="1165.00" y="1014.00" width="1.40" height="34.00" fill="#000"/>
<rect x="1157.00" y="1020.00" width="17.00" height="28.00" fill="#000"/>
<rect x="1158.10" y="1021.10" width="14.80" height="25.80" fill="#fff"/>
<rect x="1187.00" y="986.00" width="1.40" height="41.00" fill="#000"/>
<rect x="1179.00" y="995.00" width="17.00" height="26.00" fill="#000"/>
<rect x="1180.10" y="996.10" width="14.80" height="23.80" fill="#fff"/>
<rect x="1209.00" y="984.00" width="1.40" height="23.00" fill="#000"/>
<rect x="1201.00" y="995.00" width="17.00" height="9.00" fill="#000"/>
<rect x="1232.00" y="995.00" width="1.40" height="26.00" fill="#000"/>
<rect x="1224.00" y="1003.00" width="17.00" height="7.00" fill="#000"/>
<rect x="1254.00" y="958.00" width="1.40" height="55.00" fill="#000"/>
<rect x="1246.00" y="961.00" width="17.00" height="49.00" fill="#000"/>
<rect x="1247.10" y="962.10" width="14.80" height="46.80" fill="#fff"/>
<rect x="1276.00" y="898.00" width="1.40" height="66.00" fill="#000"/>
<rect x="1268.00" y="899.00" width="17.00" height="63.00" fill="#000"/>
<rect x="1269.10" y="900.10" width="14.80" height="60.80" fill="#fff"/>
<rect x="1298.00" y="898.00" width="1.40" height="41.00" fill="#000"/>
<rect x="1290.00" y="899.00" width="17.00" height="31.00" fill="#000"/>
<rect x="1321.00" y="913.00" width="1.40" height="27.00" fill="#000"/>
<rect x="1313.00" y="929.00" width="17.00" height="7.00" fill="#000"/>
<rect x="1343.00" y="928.00" width="1.40" height="29.00" fill="#000"/>
<rect x="1335.00" y="935.00" width="17.00" height="22.00" fill="#000"/>
<rect x="1365.00" y="901.00" width="1.40" height="56.00" fill="#000"/>
<rect x="1357.00" y="908.00" width="17.00" height="49.00" fill="#000"/>
<rect x="1358.10" y="909.10" width="14.80" height="46.80" fill="#fff"/>
<rect x="1387.00" y="887.00" width="1.40" height="30.00" fill="#000"/>
<rect x="1379.00" y="906.00" width="17.00" height="3.00" fill="#000"/>
<rect x="1380.10" y="907.10" width="14.80" height="0.80" fill="#fff"/>
<rect x="1410.00" y="903.00" width="1.40" height="19.00" fill="#000"/>
<rect x="1402.00" y="906.00" width="17.00" height="9.00" fill="#000"/>
<rect x="1432.00" y="910.00" width="1.40" height="21.00" fill="#000"/>
<rect x="1424.00" y="914.00" width="17.00" height="16.00" fill="#000"/>
<rect x="1454.00" y="908.00" width="1.40" height="27.00" fill="#000"/>
<rect x="1446.00" y="912.00" width="17.00" height="18.00" fill="#000"/>
<rect x="1447.10" y="913.10" width="14.80" height="15.80" fill="#fff"/>
<rect x="1476.00" y="899.00" width="1.40" height="19.00" fill="#000"/>
<rect x="1468.00" y="912.00" width="17.00" height="4.00" fill="#000"/>
<rect x="1499.00" y="909.00" width="1.40" height="12.00" fill="#000"/>
<rect x="1491.00" y="914.00" width="17.00" height="2.00" fill="#000"/>
<rect x="1521.00" y="832.00" width="1.40" height="83.00" fill="#000"/>
<rect x="1513.00" y="836.00" width="17.00" height="79.00" fill="#000"/>
<rect x="1514.10" y="837.10" width="14.80" height="76.80" fill="#fff"/>
<rect x="1543.00" y="674.00" width="1.40" height="183.00" fill="#000"/>
<rect x="1535.00" y="716.00" width="17.00" height="121.00" fill="#000"/>
<rect x="1536.10" y="717.10" width="14.80" height="118.80" fill="#fff"/>
<rect x="1565.00" y="573.00" width="1.40" height="158.00" fill="#000"/>
<rect x="1557.00" y="639.00" width="17.00" height="78.00" fill="#000"/>
<rect x="1558.10" y="640.10" width="14.80" height="75.80" fill="#fff"/>
<rect x="1588.00" y="507.00" width="1.40" height="187.00" fill="#000"/>
<rect x="1580.00" y="540.00" width="17.00" height="100.00" fill="#000"/>
<rect x="1581.10" y="541.10" width="14.80" height="97.80" fill="#fff"/>
<rect x="1610.00" y="401.00" width="1.40" height="163.00" fill="#000"/>
<rect x="1602.00" y="497.00" width="17.00" height="44.00" fill="#000"/>
<rect x="1603.10" y="498.10" width="14.80" height="41.80" fill="#fff"/>
<rect x="1632.00" y="452.00" width="1.40" height="137.00" fill="#000"/>
<rect x="1624.00" y="497.00" width="17.00" height="83.00" fill="#000"/>
<rect x="1654.00" y="484.00" width="1.40" height="110.00" fill="#000"/>
<rect x="1646.00" y="548.00" width="17.00" height="32.00" fill="#000"/>
<rect x="1647.10" y="549.10" width="14.80" height="29.80" fill="#fff"/>
<rect x="1677.00" y="526.00" width="1.40" height="109.00" fill="#000"/>
<rect x="1669.00" y="548.00" width="17.00" height="64.00" fill="#000"/>
<rect x="1699.00" y="576.00" width="1.40" height="52.00" fill="#000"/>
<rect x="1691.00" y="611.00" width="17.00" height="8.00" fill="#000"/>
<rect x="1721.00" y="494.00" width="1.40" height="127.00" fill="#000"/>
<rect x="1713.00" y="575.00" width="17.00" height="44.00" fill="#000"/>
<rect x="1714.10" y="576.10" width="14.80" height="41.80" fill="#fff"/>
<rect x="1743.00" y="566.00" width="1.40" height="78.00" fill="#000"/>
<rect x="1735.00" y="575.00" width="17.00" height="32.00" fill="#000"/>
<rect x="1765.00" y="551.00" width="1.40" height="76.00" fill="#000"/>
<rect x="1757.00" y="606.00" width="17.00" height="3.00" fill="#000"/>
<rect x="1788.00" y="576.00" width="1.40" height="49.00" fill="#000"/>
<rect x="1780.00" y="581.00" width="17.00" height="28.00" fill="#000"/>
<rect x="1781.10" y="582.10" width="14.80" height="25.80" fill="#fff"/>
<rect x="1810.00" y="561.00" width="1.40" height="41.00" fill="#000"/>
<rect x="1802.00" y="581.00" width="17.00" height="11.00" fill="#000"/>
<rect x="1832.00" y="501.00" width="1.40" height="92.00" fill="#000"/>
<rect x="1824.00" y="563.00" width="17.00" height="29.00" fill="#000"/>
<rect x="1825.10" y="564.10" width="14.80" height="26.80" fill="#fff"/>
<rect x="1854.00" y="560.00" width="1.40" height="60.00" fill="#000"/>
<rect x="1846.00" y="563.00" width="17.00" height="38.00" fill="#000"/>
<rect x="1877.00" y="593.00" width="1.40" height="40.00" fill="#000"/>
<rect x="1869.00" y="600.00" width="17.00" height="9.00" fill="#000"/>
<rect x="1899.00" y="571.00" width="1.40" height="44.00" fill="#000"/>
<rect x="1891.00" y="598.00" width="17.00" height="11.00" fill="#000"/>
<rect x="1892.10" y="599.10" width="14.80" height="8.80" fill="#fff"/>
<rect x="1921.00" y="575.00" width="1.40" height="34.00" fill="#000"/>
<rect x="1913.00" y="582.00" width="17.00" height="17.00" fill="#000"/>
<rect x="1914.10" y="583.10" width="14.80" height="14.80" fill="#fff"/>
<rect x="1943.00" y="549.00" width="1.40" height="46.00" fill="#000"/>
<rect x="1935.00" y="565.00" width="17.00" height="18.00" fill="#000"/>
<rect x="1936.10" y="566.10" width="14.80" height="15.80" fill="#fff"/>
<rect x="1966.00" y="517.00" width="1.40" height="53.00" fill="#000"/>
<rect x="1958.00" y="555.00" width="17.00" height="11.00" fill="#000"/>
<rect x="1959.10" y="556.10" width="14.80" height="8.80" fill="#fff"/>
<rect x="1988.00" y="364.00" width="1.40" height="230.00" fill="#000"/>
<rect x="1980.00" y="388.00" width="17.00" height="168.00" fill="#000"/>
<rect x="1981.10" y="389.10" width="14.80" height="165.80" fill="#fff"/>
<rect x="2010.00" y="249.00" width="1.40" height="152.00" fill="#000"/>
<rect x="2002.00" y="275.00" width="17.00" height="114.00" fill="#000"/>
<rect x="2003.10" y="276.10" width="14.80" height="111.80" fill="#fff"/>
<rect x="2032.00" y="243.00" width="1.40" height="121.00" fill="#000"/>
<rect x="2024.00" y="275.00" width="17.00" height="78.00" fill="#000"/>
<rect x="2055.00" y="299.00" width="1.40" height="137.00" fill="#000"/>
<rect x="2047.00" y="352.00" width="17.00" height="52.00" fill="#000"/>
<rect x="2077.00" y="368.00" width="1.40" height="51.00" fill="#000"/>
<rect x="2069.00" y="391.00" width="17.00" height="13.00" fill="#000"/>
<rect x="2070.10" y="392.10" width="14.80" height="10.80" fill="#fff"/>
<rect x="2099.00" y="332.00" width="1.40" height="76.00" fill="#000"/>
<rect x="2091.00" y="391.00" width="17.00" height="7.00" fill="#000"/>
<rect x="2121.00" y="341.00" width="1.40" height="58.00" fill="#000"/>
<rect x="2113.00" y="349.00" width="17.00" height="49.00" fill="#000"/>
<rect x="2114.10" y="350.10" width="14.80" height="46.80" fill="#fff"/>
<rect x="2144.00" y="343.00" width="1.40" height="60.00" fill="#000"/>
<rect x="2136.00" y="348.00" width="17.00" height="14.00" fill="#000"/>
<rect x="2166.00" y="323.00" width="1.40" height="70.00" fill="#000"/>
<rect x="2158.00" y="357.00" width="17.00" height="5.00" fill="#000"/>
<rect x="2159.10" y="358.10" width="14.80" height="2.80" fill="#fff"/>
<rect x="2188.00" y="223.00" width="1.40" height="156.00" fill="#000"/>
<rect x="2180.00" y="254.00" width="17.00" height="104.00" fill="#000"/>
<rect x="2181.10" y="255.10" width="14.80" height="101.80" fill="#fff"/>
<rect x="2210.00" y="174.00" width="1.40" height="100.00" fill="#000"/>
<rect x="2202.00" y="243.00" width="17.00" height="12.00" fill="#000"/>
<rect x="2203.10" y="244.10" width="14.80" height="9.80" fill="#fff"/>
</g>
<rect x="1386.00" y="902.80" width="3.00" height="1.00" fill="#ad4fc0"/>
<rect x="1475.00" y="910.90" width="3.00" height="1.00" fill="#ad4fc0"/>
<rect x="1609.00" y="486.90" width="3.00" height="1.00" fill="#ad4fc0"/>
<rect x="1653.00" y="541.90" width="3.00" height="1.00" fill="#ad4fc0"/>
<rect x="1698.00" y="607.10" width="3.00" height="1.00" fill="#ad4fc0"/>
<rect x="1720.00" y="562.90" width="3.00" height="1.00" fill="#ad4fc0"/>
<rect x="1764.00" y="594.90" width="3.00" height="1.00" fill="#ad4fc0"/>
<rect x="1831.00" y="552.90" width="3.00" height="1.00" fill="#ad4fc0"/>
<rect x="1876.00" y="612.00" width="3.00" height="1.00" fill="#ad4fc0"/>
<rect x="1898.00" y="593.90" width="3.00" height="1.00" fill="#ad4fc0"/>
<rect x="1965.00" y="546.90" width="3.00" height="1.00" fill="#ad4fc0"/>
<rect x="2098.00" y="378.80" width="3.00" height="1.00" fill="#ad4fc0"/>
<rect x="2143.00" y="369.00" width="3.00" height="1.00" fill="#ad4fc0"/>
<rect x="2209.00" y="229.70" width="3.00" height="1.00" fill="#ad4fc0"/>
<polyline points="1521.5,1065.2 1543.5,1067.1 1565.5,1063.1 1588.5,1061.3 1610.5,1071.0 1632.5,1079.9 1654.5,1082.7 1677.5,1085.6 1699.5,1092.2 1721.5,1095.7 1743.5,1099.5 1765.5,1099.7 1788.5,1100.4 1810.5,1104.1 1832.5,1105.5 1854.5,1105.8 1877.5,1106.0 1899.5,1107.4 1921.5,1108.3 1943.5,1108.3 1966.5,1111.8 1988.5,1115.8 2010.5,1119.3 2032.5,1122.5 2055.5,1125.6 2077.5,1127.0 2099.5,1127.9 2121.5,1128.6 2144.5,1129.5 2166.5,1132.3 2188.5,1132.1 2210.5,1132.5" fill="none" stroke="#6b6b6b" stroke-width="1.6" stroke-linejoin="round"/>
<circle cx="1054.3" cy="177.5" r="8.4" fill="#fff" stroke="#1848e8" stroke-width="2"/>
<circle cx="943.4" cy="1059.5" r="8.4" fill="#fff" stroke="#1848e8" stroke-width="2"/>
<rect x="856.2" y="119" width="284.6" height="43" rx="5" ry="5" fill="#d5c9ea"/>
<line x1="1203.50" y1="1164.00" x2="1202.00" y2="1370.00" stroke="#3497f1" stroke-width="1.7"/>
<line x1="1217.00" y1="1164.00" x2="1218.60" y2="1370.00" stroke="#3497f1" stroke-width="1.7"/>
<line x1="2175.90" y1="1164.00" x2="2172.50" y2="1370.00" stroke="#3497f1" stroke-width="1.7"/>
<line x1="2195.30" y1="1164.00" x2="2197.70" y2="1370.00" stroke="#3497f1" stroke-width="1.7"/>
<g shape-rendering="crispEdges">
<rect x="1132.00" y="1445.00" width="22.00" height="41.90" fill="#aa5580"/>
<rect x="1155.00" y="1445.00" width="21.00" height="15.80" fill="#aa5580"/>
<rect x="1177.00" y="1445.00" width="21.00" height="39.80" fill="#aa5580"/>
<rect x="1199.00" y="1445.00" width="21.00" height="35.90" fill="#aa5580"/>
<rect x="1221.00" y="1445.00" width="22.00" height="37.00" fill="#aa5580"/>
<rect x="1244.00" y="1445.00" width="21.00" height="33.80" fill="#aa5580"/>
<rect x="1266.00" y="1445.00" width="21.00" height="41.90" fill="#aa5580"/>
<rect x="1288.00" y="1445.00" width="21.00" height="74.10" fill="#aa5580"/>
<rect x="1310.00" y="1445.00" width="22.00" height="69.00" fill="#aa5580"/>
<rect x="1333.00" y="1445.00" width="21.00" height="26.80" fill="#aa5580"/>
<rect x="1355.00" y="1445.00" width="21.00" height="38.90" fill="#aa5580"/>
<rect x="1377.00" y="1445.00" width="21.00" height="4.90" fill="#aa5580"/>
<rect x="1399.00" y="1445.00" width="22.00" height="29.80" fill="#aa5580"/>
<rect x="1422.00" y="1445.00" width="21.00" height="120.00" fill="#aa5580"/>
<rect x="1444.00" y="1445.00" width="21.00" height="102.00" fill="#aa5580"/>
<rect x="1466.00" y="1445.00" width="21.00" height="69.90" fill="#aa5580"/>
<rect x="1488.00" y="1445.00" width="22.00" height="92.00" fill="#aa5580"/>
<rect x="1511.00" y="1445.00" width="21.00" height="89.90" fill="#aa5580"/>
<rect x="1533.00" y="1445.00" width="21.00" height="56.80" fill="#aa5580"/>
<rect x="1555.00" y="1445.00" width="21.00" height="39.80" fill="#aa5580"/>
<rect x="1577.00" y="1432.00" width="22.00" height="14.00" fill="#f881ad"/>
<rect x="1600.00" y="1445.00" width="21.00" height="22.80" fill="#aa5580"/>
<rect x="1622.00" y="1445.00" width="21.00" height="19.80" fill="#aa5580"/>
<rect x="1644.00" y="1445.00" width="21.00" height="20.70" fill="#aa5580"/>
<rect x="1666.00" y="1445.00" width="22.00" height="4.90" fill="#aa5580"/>
<rect x="1689.00" y="1443.10" width="21.00" height="2.90" fill="#f881ad"/>
<rect x="1711.00" y="1383.00" width="21.00" height="63.00" fill="#f881ad"/>
<rect x="1733.00" y="1426.10" width="21.00" height="19.90" fill="#f881ad"/>
<rect x="1755.00" y="1421.90" width="21.00" height="24.10" fill="#f881ad"/>
<rect x="1777.00" y="1441.00" width="22.00" height="5.00" fill="#f881ad"/>
<rect x="1800.00" y="1445.00" width="21.00" height="18.90" fill="#aa5580"/>
<rect x="1822.00" y="1380.90" width="21.00" height="65.10" fill="#f881ad"/>
<rect x="1844.00" y="1384.90" width="21.00" height="61.10" fill="#f881ad"/>
<rect x="1866.00" y="1445.00" width="22.00" height="5.80" fill="#aa5580"/>
<rect x="1889.00" y="1445.00" width="21.00" height="5.80" fill="#aa5580"/>
<rect x="1911.00" y="1445.00" width="21.00" height="8.90" fill="#aa5580"/>
<rect x="1933.00" y="1445.00" width="21.00" height="25.90" fill="#aa5580"/>
<rect x="1955.00" y="1445.00" width="22.00" height="21.90" fill="#aa5580"/>
<rect x="1978.00" y="1445.00" width="21.00" height="79.00" fill="#aa5580"/>
<rect x="2000.00" y="1445.00" width="21.00" height="105.10" fill="#aa5580"/>
<rect x="2022.00" y="1445.00" width="21.00" height="91.10" fill="#aa5580"/>
<rect x="2044.00" y="1445.00" width="22.00" height="58.90" fill="#aa5580"/>
<rect x="2067.00" y="1441.00" width="21.00" height="5.00" fill="#f881ad"/>
<rect x="2089.00" y="1433.10" width="21.00" height="12.90" fill="#f881ad"/>
<rect x="2111.00" y="1445.00" width="21.00" height="20.70" fill="#aa5580"/>
<rect x="2133.00" y="1445.00" width="22.00" height="49.90" fill="#aa5580"/>
<rect x="2156.00" y="1445.00" width="21.00" height="2.80" fill="#aa5580"/>
<rect x="2178.00" y="1445.00" width="21.00" height="7.90" fill="#aa5580"/>
<rect x="2200.00" y="1445.00" width="21.00" height="40.80" fill="#aa5580"/>
</g>
<g shape-rendering="crispEdges">
<rect x="1088.00" y="1612.10" width="21.00" height="7.70" fill="#ffb3d9"/>
<rect x="1088.00" y="1619.80" width="21.00" height="122.20" fill="#ff66b2"/>
<rect x="1110.00" y="1613.00" width="21.00" height="6.80" fill="#ffb3d9"/>
<rect x="1110.00" y="1619.80" width="21.00" height="122.20" fill="#ff66b2"/>
<rect x="1132.00" y="1637.00" width="22.00" height="105.00" fill="#ff66b2"/>
<rect x="1155.00" y="1700.20" width="21.00" height="41.80" fill="#ff66b2"/>
<rect x="1177.00" y="1686.00" width="21.00" height="56.00" fill="#ff66b2"/>
<rect x="1199.00" y="1654.00" width="21.00" height="88.00" fill="#ff66b2"/>
<rect x="1221.00" y="1660.10" width="22.00" height="81.90" fill="#ff66b2"/>
<rect x="1244.00" y="1587.00" width="21.00" height="32.80" fill="#ffb3d9"/>
<rect x="1244.00" y="1619.80" width="21.00" height="122.20" fill="#ff66b2"/>
<rect x="1266.00" y="1670.10" width="21.00" height="71.90" fill="#ff66b2"/>
<rect x="1288.00" y="1663.10" width="21.00" height="78.90" fill="#ff66b2"/>
<rect x="1310.00" y="1695.00" width="22.00" height="47.00" fill="#ff66b2"/>
<rect x="1333.00" y="1692.00" width="21.00" height="50.00" fill="#ff66b2"/>
<rect x="1355.00" y="1675.00" width="21.00" height="67.00" fill="#ff66b2"/>
<rect x="1377.00" y="1636.10" width="21.00" height="105.90" fill="#ff66b2"/>
<rect x="1399.00" y="1670.10" width="22.00" height="71.90" fill="#ff66b2"/>
<rect x="1422.00" y="1644.00" width="21.00" height="98.00" fill="#ff66b2"/>
<rect x="1444.00" y="1647.00" width="21.00" height="95.00" fill="#ff66b2"/>
<rect x="1466.00" y="1705.00" width="21.00" height="37.00" fill="#ff66b2"/>
<rect x="1488.00" y="1675.00" width="22.00" height="67.00" fill="#ff66b2"/>
<rect x="1511.00" y="1638.00" width="21.00" height="104.00" fill="#ff66b2"/>
<rect x="1533.00" y="1668.00" width="21.00" height="74.00" fill="#ff66b2"/>
<rect x="1555.00" y="1672.00" width="21.00" height="70.00" fill="#ff66b2"/>
<rect x="1577.00" y="1657.10" width="22.00" height="84.90" fill="#ff66b2"/>
<rect x="1600.00" y="1640.10" width="21.00" height="101.90" fill="#ff66b2"/>
<rect x="1622.00" y="1680.10" width="21.00" height="61.90" fill="#ff66b2"/>
<rect x="1644.00" y="1685.00" width="21.00" height="57.00" fill="#ff66b2"/>
<rect x="1666.00" y="1663.10" width="22.00" height="78.90" fill="#ff66b2"/>
<rect x="1689.00" y="1665.00" width="21.00" height="77.00" fill="#ff66b2"/>
<rect x="1711.00" y="1623.10" width="21.00" height="118.90" fill="#ff66b2"/>
<rect x="1733.00" y="1670.10" width="21.00" height="71.90" fill="#ff66b2"/>
<rect x="1755.00" y="1665.90" width="21.00" height="76.10" fill="#ff66b2"/>
<rect x="1777.00" y="1707.10" width="22.00" height="34.90" fill="#ff66b2"/>
<rect x="1800.00" y="1701.10" width="21.00" height="40.90" fill="#ff66b2"/>
<rect x="1822.00" y="1632.10" width="21.00" height="109.90" fill="#ff66b2"/>
<rect x="1844.00" y="1642.20" width="21.00" height="99.80" fill="#ff66b2"/>
<rect x="1866.00" y="1662.20" width="22.00" height="79.80" fill="#ff66b2"/>
<rect x="1889.00" y="1676.20" width="21.00" height="65.80" fill="#ff66b2"/>
<rect x="1911.00" y="1698.10" width="21.00" height="43.90" fill="#ff66b2"/>
<rect x="1933.00" y="1714.10" width="21.00" height="27.90" fill="#ff66b2"/>
<rect x="1955.00" y="1708.10" width="22.00" height="33.90" fill="#ff66b2"/>
<rect x="1978.00" y="1649.10" width="21.00" height="92.90" fill="#ff66b2"/>
<rect x="2000.00" y="1679.00" width="21.00" height="63.00" fill="#ff66b2"/>
<rect x="2022.00" y="1668.90" width="21.00" height="73.10" fill="#ff66b2"/>
<rect x="2044.00" y="1643.10" width="22.00" height="98.90" fill="#ff66b2"/>
<rect x="2067.00" y="1655.20" width="21.00" height="86.80" fill="#ff66b2"/>
<rect x="2089.00" y="1706.00" width="21.00" height="36.00" fill="#ff66b2"/>
<rect x="2111.00" y="1698.10" width="21.00" height="43.90" fill="#ff66b2"/>
<rect x="2133.00" y="1628.20" width="22.00" height="113.80" fill="#ff66b2"/>
<rect x="2156.00" y="1622.10" width="21.00" height="119.90" fill="#ff66b2"/>
<rect x="2178.00" y="1640.10" width="21.00" height="101.90" fill="#ff66b2"/>
<rect x="2200.00" y="1651.00" width="21.00" height="91.00" fill="#ff66b2"/>
</g>
<rect x="2.00" y="1162.00" width="3359.00" height="1.60" fill="#e0e3eb"/>
<rect x="2.00" y="1370.00" width="3359.00" height="1.40" fill="#e0e3eb"/>
<rect x="2.00" y="1576.00" width="3359.00" height="1.60" fill="#e0e3eb"/>
<rect x="2.00" y="1792.00" width="3359.00" height="1.40" fill="#e0e3eb"/>
<rect x="3231.10" y="177.50" width="130.00" height="881.10" fill="#c9d7fd"/>
<rect x="942.00" y="1752.00" width="112.00" height="40.00" fill="#c9d7fd"/>
<line x1="106.50" y1="70.00" x2="106.50" y2="1162.00" stroke="#424242" stroke-width="1.15"/>
<line x1="3230.50" y1="70.00" x2="3230.50" y2="1162.00" stroke="#424242" stroke-width="1.15"/>
<line x1="106.50" y1="1163.60" x2="106.50" y2="1370.00" stroke="#424242" stroke-width="1.15"/>
<line x1="3230.50" y1="1163.60" x2="3230.50" y2="1370.00" stroke="#424242" stroke-width="1.15"/>
<line x1="106.50" y1="1371.40" x2="106.50" y2="1576.00" stroke="#424242" stroke-width="1.15"/>
<line x1="3230.50" y1="1371.40" x2="3230.50" y2="1576.00" stroke="#424242" stroke-width="1.15"/>
<line x1="106.50" y1="1577.60" x2="106.50" y2="1792.00" stroke="#424242" stroke-width="1.15"/>
<line x1="3230.50" y1="1577.60" x2="3230.50" y2="1792.00" stroke="#424242" stroke-width="1.15"/>
<line x1="2.00" y1="1751.50" x2="3361.00" y2="1751.50" stroke="#424242" stroke-width="1.15"/>
<circle cx="27.5" cy="35.4" r="13.5" fill="#26a17b"/>
<rect x="21.50" y="29.40" width="12.20" height="3.20" fill="#fff"/>
<rect x="25.80" y="32.60" width="3.60" height="10.40" fill="#fff"/>
<ellipse cx="27.55" cy="36.8" rx="7.4" ry="1.55" fill="none" stroke="#e6f5f0" stroke-width="0.85"/>
<path d="M25.6 38.15Q27.6 38.5 29.6 38.15" fill="none" stroke="#26a17b" stroke-width="0.6"/>
<text x="51.0" y="42.9" font-size="21.0" fill="#2962ff" textLength="88.8" lengthAdjust="spacingAndGlyphs" stroke="#2962ff" stroke-width="0.55">GMTUSDT</text>
<circle cx="180.2" cy="36.6" r="13.3" fill="none" stroke="#131722" stroke-width="1.5"/>
<path d="M173.4 36.7H187M180.2 30.1V43.3" stroke="#131722" stroke-width="1.5" fill="none"/>
<rect x="215.20" y="19.50" width="1.70" height="32.20" fill="#e0e3eb"/>
<text x="235.2" y="42.9" font-size="21.0" fill="#131722" textLength="20.7" lengthAdjust="spacingAndGlyphs">1h</text>
<text x="275.2" y="42.9" font-size="21.0" fill="#131722" textLength="21.4" lengthAdjust="spacingAndGlyphs">4h</text>
<text x="316.8" y="42.9" font-size="21.0" fill="#2962ff" textLength="11.2" lengthAdjust="spacingAndGlyphs">D</text>
<text x="347.8" y="42.9" font-size="21.0" fill="#131722" textLength="37.6" lengthAdjust="spacingAndGlyphs">15m</text>
<path d="M407.1 34.0 L412.9 39.5 L418.6 34.0" fill="none" stroke="#131722" stroke-width="1.5"/>
<rect x="433.60" y="19.50" width="1.70" height="32.20" fill="#e0e3eb"/>
<g fill="none" stroke="#131722" stroke-width="1.5"><rect x="461.5" y="27" width="6" height="18.5" rx="0.8"/><path d="M464.5 21.2V27M464.5 45.5V50.6"/><rect x="474" y="31.5" width="6" height="10" rx="0.8"/><path d="M477 26.2V31.5M477 41.5V46.3"/></g>
<rect x="504.20" y="19.50" width="1.70" height="32.20" fill="#e0e3eb"/>
<g fill="none" stroke="#131722" stroke-width="1.5" stroke-linejoin="round" stroke-linecap="round"><path d="M528.4 32.5L535.6 25.4a1 1 0 0 1 1.4 0L541.8 30a1 1 0 0 0 1.3 .1L553 22.8"/><path d="M528.6 48.7V43.4a.8 .8 0 0 1 .8 -.8H534.5V39.1a.8 .8 0 0 1 .8 -.8H539.9a.8 .8 0 0 1 .8 .8V41.1H546.5V34.4a.8 .8 0 0 1 .8 -.8H552.2a.8 .8 0 0 1 .8 .8V48.7H528.6ZM534.5 42.6V48.7M540.7 41.1V48.7M546.5 41.1V48.7"/></g>
<text x="564.8" y="42.9" font-size="21.0" fill="#131722" textLength="91.6" lengthAdjust="spacingAndGlyphs">Indicators</text>
<path d="M681.0 34.0 L686.7 39.5 L692.5 34.0" fill="none" stroke="#131722" stroke-width="1.5"/>
<g fill="none" stroke="#131722" stroke-width="1.5"><rect x="720" y="25.2" width="8.6" height="8.6" rx="2"/><rect x="733.4" y="25.2" width="8.6" height="8.6" rx="2"/><rect x="720" y="38.4" width="8.6" height="8.6" rx="2"/><rect x="733.4" y="38.4" width="8.6" height="8.6" rx="2"/></g>
<rect x="765.20" y="19.50" width="1.70" height="32.20" fill="#e0e3eb"/>
<g fill="none" stroke="#131722" stroke-width="1.5" stroke-linecap="round"><path d="M800.3 48.5A11.9 11.9 0 1 1 812.2 37.2"/><path d="M800.3 28.8V36.7H795.5"/><path d="M788.5 32.9A5.7 5.7 0 1 1 796.9 24.7M803.7 24.7A5.7 5.7 0 1 1 812.1 32.9"/><path d="M802.8 45.6H815.6M809.3 39.4V52.2"/></g>
<text x="825.1" y="42.9" font-size="21.0" fill="#131722" textLength="46.1" lengthAdjust="spacingAndGlyphs">Alert</text>
<g fill="none" stroke="#131722" stroke-width="1.5" stroke-linejoin="miter"><path d="M914.2 28.6V44.6L905.6 36.6Z"/><path d="M926.3 28.6V44.6L917.7 36.6Z"/></g>
<text x="940.0" y="42.9" font-size="21.0" fill="#131722" textLength="60.9" lengthAdjust="spacingAndGlyphs">Replay</text>
<path d="M3097.6 29.2L3092.9 33.8L3097.9 38.6M3093.4 33.8H3103a8.3 8.8 0 0 1 8.3 8.8V43.4" fill="none" stroke="#131722" stroke-width="1.5"/>
<path d="M3164.2 29.2L3168.9 33.8L3163.9 38.6M3168.4 33.8H3158.6a8.3 8.8 0 0 0 -8.3 8.8V43.4" fill="none" stroke="#b2b5be" stroke-width="1.5"/>
<rect x="3195.00" y="19.50" width="1.10" height="32.20" fill="#e0e3eb"/>
<rect x="3218.1" y="24.9" width="26.9" height="23.6" rx="3.5" fill="none" stroke="#131722" stroke-width="1.7"/>
<g fill="none" stroke="#131722" stroke-width="1.6" stroke-linejoin="round"><path d="M3285.2 25.6L3289.7 24.5M3293.7 25.3L3297.8 28.1M3299.9 32.1L3300.9 35.2L3301.7 35.7M3304.8 39.1L3305.5 41.4L3304.8 43.6M3294.4 47.1H3299.5L3301.7 46.6M3285.2 47.1H3289.9M3276.4 46.7L3276.9 47.1H3280.7M3270.6 40.5L3271.3 42.8L3272.7 44.7M3271.4 36.1L3272.7 34.6L3274.8 32.9M3278.9 32.1L3279.7 29.8L3281.4 27.8"/></g>
<text x="3312.7" y="42.9" font-size="21" fill="#131722" textLength="51" lengthAdjust="spacingAndGlyphs">lightc</text>
<text x="121.2" y="102.8" font-size="22.4" fill="#4f4f4f" textLength="167.7" lengthAdjust="spacingAndGlyphs">GMT / TetherUS</text>
<text x="308.7" y="102.8" font-size="22.4" fill="#4f4f4f" textLength="26.3" lengthAdjust="spacingAndGlyphs">1D</text>
<text x="354.0" y="102.8" font-size="22.4" fill="#4f4f4f" textLength="91.0" lengthAdjust="spacingAndGlyphs">BINANCE</text>
<text x="464.0" y="102.8" font-size="22.4" fill="#4f4f4f" textLength="129.2" lengthAdjust="spacingAndGlyphs">TradingView</text>
<circle cx="299.2" cy="95.6" r="2.1" fill="#b2b5be"/>
<circle cx="344.2" cy="95.6" r="2.1" fill="#b2b5be"/>
<circle cx="454.2" cy="95.6" r="2.1" fill="#b2b5be"/>
<circle cx="629.6" cy="94.4" r="13.5" fill="#dff3ef"/><circle cx="629.6" cy="94.4" r="6.2" fill="#089981"/>
<text x="667.9" y="103.7" font-size="19.5" fill="#555555" textLength="12.5" lengthAdjust="spacingAndGlyphs">O</text>
<text x="682.9" y="103.7" font-size="19.5" fill="#141414" textLength="65.6" lengthAdjust="spacingAndGlyphs">3.80631</text>
<text x="760.7" y="103.7" font-size="19.5" fill="#555555" textLength="11.1" lengthAdjust="spacingAndGlyphs">H</text>
<text x="773.5" y="103.7" font-size="19.5" fill="#141414" textLength="66.4" lengthAdjust="spacingAndGlyphs">4.17851</text>
<text x="852.1" y="103.7" font-size="19.5" fill="#555555" textLength="8.0" lengthAdjust="spacingAndGlyphs">L</text>
<text x="863.2" y="103.7" font-size="19.5" fill="#141414" textLength="66.8" lengthAdjust="spacingAndGlyphs">3.71565</text>
<text x="940.5" y="103.7" font-size="19.5" fill="#555555" textLength="10.5" lengthAdjust="spacingAndGlyphs">C</text>
<text x="954.5" y="103.7" font-size="19.5" fill="#141414" textLength="66.4" lengthAdjust="spacingAndGlyphs">3.85716</text>
<text x="1031.8" y="103.7" font-size="19.5" fill="#141414" textLength="76.4" lengthAdjust="spacingAndGlyphs">+0.05055</text>
<text x="1117.5" y="103.7" font-size="19.5" fill="#141414" textLength="71.5" lengthAdjust="spacingAndGlyphs">(+1.33%)</text>
<rect x="119.6" y="119" width="91.6" height="34.2" rx="5" fill="#fff" stroke="#f23645" stroke-width="1.2"/>
<rect x="294.6" y="119" width="90.8" height="34.2" rx="5" fill="#fff" stroke="#2962ff" stroke-width="1.2"/>
<text x="131.8" y="143.1" font-size="19.5" fill="#f23645" textLength="67.4" lengthAdjust="spacingAndGlyphs">3.85708</text>
<text x="223.6" y="142.1" font-size="16.5" fill="#4f4f4f" textLength="57.7" lengthAdjust="spacingAndGlyphs">0.00008</text>
<text x="306.5" y="143.1" font-size="19.5" fill="#2962ff" textLength="66.9" lengthAdjust="spacingAndGlyphs">3.85716</text>
<text x="121.2" y="184.7" font-size="19.5" fill="#4f4f4f" textLength="52.2" lengthAdjust="spacingAndGlyphs">Vol 20</text>
<text x="185.9" y="184.7" font-size="19.5" fill="#111" textLength="82.6" lengthAdjust="spacingAndGlyphs">273.702M</text>
<text x="277.2" y="184.7" font-size="19.5" fill="#4f4f4f" textLength="82.3" lengthAdjust="spacingAndGlyphs">269.461M</text>
<text x="121.2" y="220.6" font-size="19.5" fill="#4f4f4f" textLength="158.1" lengthAdjust="spacingAndGlyphs">VWAP Session hlc3</text>
<text x="292.4" y="220.6" font-size="19.5" fill="#9c27b0" textLength="67.6" lengthAdjust="spacingAndGlyphs">3.91725</text>
<text x="121.2" y="257.4" font-size="19.5" fill="#b2b5be" textLength="317.1" lengthAdjust="spacingAndGlyphs">KC 20 2 close Average True Range 10</text>
<text x="121.2" y="292.4" font-size="19.5" fill="#4f4f4f" textLength="344.3" lengthAdjust="spacingAndGlyphs">VPVR Number Of Rows 240 Up/Down 70</text>
<text x="478.3" y="292.4" font-size="19.5" fill="#d1c4e9" textLength="72.0" lengthAdjust="spacingAndGlyphs">12.999M</text>
<text x="559.2" y="292.4" font-size="19.5" fill="#4527a0" textLength="72.1" lengthAdjust="spacingAndGlyphs">13.563M</text>
<text x="640.2" y="292.4" font-size="19.5" fill="#333" textLength="72.6" lengthAdjust="spacingAndGlyphs">26.562M</text>
<text x="121.2" y="329.4" font-size="19.5" fill="#b2b5be" textLength="182.6" lengthAdjust="spacingAndGlyphs">MA 200 close 0 SMA 5</text>
<g fill="none" stroke="#131722" stroke-width="1.5" transform="translate(464.9 250.4)"><path d="M-11.8 0C-7.5 -5.8 -3.8 -8.5 0 -8.5C3.8 -8.5 7.5 -5.8 11.8 0C7.5 5.9 3.8 8.7 0 8.7C-3.8 8.7 -7.5 5.9 -11.8 0Z" stroke-linejoin="miter"/><circle cx="0" cy="0" r="4"/><path d="M9.6 -9.7L-9.3 9.7" stroke="#fff" stroke-width="4.4"/><path d="M8.9 -9L-8.6 9" stroke-width="1.7"/></g>
<g fill="none" stroke="#131722" stroke-width="1.5" transform="translate(331.8 322.4)"><path d="M-11.8 0C-7.5 -5.8 -3.8 -8.5 0 -8.5C3.8 -8.5 7.5 -5.8 11.8 0C7.5 5.9 3.8 8.7 0 8.7C-3.8 8.7 -7.5 5.9 -11.8 0Z" stroke-linejoin="miter"/><circle cx="0" cy="0" r="4"/><path d="M9.6 -9.7L-9.3 9.7" stroke="#fff" stroke-width="4.4"/><path d="M8.9 -9L-8.6 9" stroke-width="1.7"/></g>
<rect x="121.7" y="343.9" width="41.7" height="30.2" rx="3" fill="#fff" stroke="#d1d4dc" stroke-width="1.2"/>
<path d="M137.0 362.4 L142.5 356.9 L148.0 362.4" fill="none" stroke="#131722" stroke-width="1.8"/>
<text x="871.7" y="147.6" font-size="19.5" fill="#111" textLength="254.0" lengthAdjust="spacingAndGlyphs">4.05973 (3978.75%) 405973</text>
<text x="120.5" y="1195.1" font-size="19.5" fill="#4f4f4f" textLength="166.7" lengthAdjust="spacingAndGlyphs">btc-nq, normalized</text>
<text x="299.8" y="1195.1" font-size="19.5" fill="#2196f3" textLength="99.2" lengthAdjust="spacingAndGlyphs">2541.86144</text>
<text x="120.5" y="1402.7" font-size="19.5" fill="#4f4f4f" textLength="560.1" lengthAdjust="spacingAndGlyphs">Aggregate Derivatives Premium (ADP)(Perpetual Futures Only) D</text>
<text x="693.6" y="1402.7" font-size="19.5" fill="#880e4f" textLength="77.5" lengthAdjust="spacingAndGlyphs">−5.17077</text>
<text x="121.6" y="1609.1" font-size="19.5" fill="#4f4f4f" textLength="326.0" lengthAdjust="spacingAndGlyphs">[CL Total Bitcoin Spot Volume V3.0] D</text>
<text x="460.5" y="1608.9" font-size="19.5" fill="#ff69b4" textLength="108.7" lengthAdjust="spacingAndGlyphs">32828.61850</text>
<text x="579.0" y="1608.9" font-size="19.5" fill="#ff69b4" textLength="108.6" lengthAdjust="spacingAndGlyphs">35186.33068</text>
<text x="696.7" y="1608.9" font-size="19.5" fill="#ff69b4" textLength="108.7" lengthAdjust="spacingAndGlyphs">87112.81953</text>
<text x="815.2" y="1608.9" font-size="19.5" fill="#ff69b4" textLength="108.6" lengthAdjust="spacingAndGlyphs">99947.87830</text>
<text x="933.5" y="1608.9" font-size="19.5" fill="#ff69b4" textLength="118.9" lengthAdjust="spacingAndGlyphs">106174.93881</text>
<text x="1062.8" y="1608.9" font-size="19.5" fill="#ff69b4" textLength="118.3" lengthAdjust="spacingAndGlyphs">106674.41345</text>
<text x="1192.3" y="1608.9" font-size="19.5" fill="#ff69b4" textLength="118.1" lengthAdjust="spacingAndGlyphs">121938.36860</text>
<text x="3244.3" y="87.8" font-size="17.0" fill="#555555" textLength="57.4" lengthAdjust="spacingAndGlyphs">4.60000</text>
<text x="3244.3" y="131.3" font-size="17.0" fill="#555555" textLength="57.4" lengthAdjust="spacingAndGlyphs">4.40000</text>
<text x="3244.3" y="174.7" font-size="17.0" fill="#555555" textLength="57.4" lengthAdjust="spacingAndGlyphs">4.20000</text>
<text x="3244.3" y="218.2" font-size="17.0" fill="#555555" textLength="57.4" lengthAdjust="spacingAndGlyphs">4.00000</text>
<text x="3244.3" y="305.1" font-size="17.0" fill="#555555" textLength="57.4" lengthAdjust="spacingAndGlyphs">3.60000</text>
<text x="3244.3" y="348.5" font-size="17.0" fill="#555555" textLength="57.4" lengthAdjust="spacingAndGlyphs">3.40000</text>
<text x="3244.3" y="392.0" font-size="17.0" fill="#555555" textLength="57.4" lengthAdjust="spacingAndGlyphs">3.20000</text>
<text x="3244.3" y="435.5" font-size="17.0" fill="#555555" textLength="57.4" lengthAdjust="spacingAndGlyphs">3.00000</text>
<text x="3244.3" y="478.9" font-size="17.0" fill="#555555" textLength="57.4" lengthAdjust="spacingAndGlyphs">2.80000</text>
<text x="3244.3" y="522.4" font-size="17.0" fill="#555555" textLength="57.4" lengthAdjust="spacingAndGlyphs">2.60000</text>
<text x="3244.3" y="565.8" font-size="17.0" fill="#555555" textLength="57.4" lengthAdjust="spacingAndGlyphs">2.40000</text>
<text x="3244.3" y="609.3" font-size="17.0" fill="#555555" textLength="57.4" lengthAdjust="spacingAndGlyphs">2.20000</text>
<text x="3244.3" y="652.8" font-size="17.0" fill="#555555" textLength="57.4" lengthAdjust="spacingAndGlyphs">2.00000</text>
<text x="3244.3" y="696.2" font-size="17.0" fill="#555555" textLength="57.4" lengthAdjust="spacingAndGlyphs">1.80000</text>
<text x="3244.3" y="739.7" font-size="17.0" fill="#555555" textLength="57.4" lengthAdjust="spacingAndGlyphs">1.60000</text>
<text x="3244.3" y="783.1" font-size="17.0" fill="#555555" textLength="57.4" lengthAdjust="spacingAndGlyphs">1.40000</text>
<text x="3244.3" y="826.6" font-size="17.0" fill="#555555" textLength="57.4" lengthAdjust="spacingAndGlyphs">1.20000</text>
<text x="3244.3" y="870.0" font-size="17.0" fill="#555555" textLength="57.4" lengthAdjust="spacingAndGlyphs">1.00000</text>
<text x="3244.3" y="913.5" font-size="17.0" fill="#555555" textLength="57.4" lengthAdjust="spacingAndGlyphs">0.80000</text>
<text x="3244.3" y="957.0" font-size="17.0" fill="#555555" textLength="57.4" lengthAdjust="spacingAndGlyphs">0.60000</text>
<text x="3244.3" y="1000.4" font-size="17.0" fill="#555555" textLength="57.4" lengthAdjust="spacingAndGlyphs">0.40000</text>
<text x="3244.3" y="1043.9" font-size="17.0" fill="#555555" textLength="57.4" lengthAdjust="spacingAndGlyphs">0.20000</text>
<text x="3244.3" y="1087.3" font-size="17.0" fill="#555555" textLength="66.2" lengthAdjust="spacingAndGlyphs">−0.00000</text>
<text x="3244.3" y="1130.8" font-size="17.0" fill="#555555" textLength="66.2" lengthAdjust="spacingAndGlyphs">−0.20000</text>
<path d="M3229.9 166H3308.5a2 2 0 0 1 2 2V187a2 2 0 0 1 -2 2H3229.9Z" fill="#2962ff"/>
<text x="3244.5" y="183.6" font-size="17.0" fill="#fff" font-weight="bold" textLength="58.0" lengthAdjust="spacingAndGlyphs">4.16177</text>
<path d="M3229.9 1048H3308.5a2 2 0 0 1 2 2V1069a2 2 0 0 1 -2 2H3229.9Z" fill="#2962ff"/>
<text x="3244.5" y="1065.6" font-size="17.0" fill="#fff" font-weight="bold" textLength="58.0" lengthAdjust="spacingAndGlyphs">0.10204</text>
<rect x="3146" y="232" width="86" height="22.4" fill="#fff"/>
<path d="M3229.8 232H3314.8a2 2 0 0 1 2 2V271.8a2 2 0 0 1 -2 2H3229.8Z" fill="#fff"/>
<text x="3150.7" y="249.7" font-size="17.0" fill="#111" textLength="69.3" lengthAdjust="spacingAndGlyphs">GMTUSDT</text>
<text x="3245.7" y="249.7" font-size="17.0" fill="#111" textLength="56.6" lengthAdjust="spacingAndGlyphs">3.85716</text>
<text x="3245.7" y="269.3" font-size="17.0" fill="#444" textLength="62.9" lengthAdjust="spacingAndGlyphs">04:57:22</text>
<rect x="3265.2" y="79.8" width="62" height="28" rx="5" fill="#fff" stroke="#d1d4dc" stroke-width="1.2"/>
<text x="3272.0" y="99.8" font-size="17.0" fill="#4f4f4f" textLength="37.6" lengthAdjust="spacingAndGlyphs">USDT</text>
<path d="M3314.3 92.6 L3317.6 96.0 L3320.8 92.6" fill="none" stroke="#4f4f4f" stroke-width="1.6"/>
<text x="3244.6" y="1188.3" font-size="17.0" fill="#555555" textLength="83.4" lengthAdjust="spacingAndGlyphs">3720.00000</text>
<text x="3244.6" y="1232.0" font-size="17.0" fill="#555555" textLength="83.4" lengthAdjust="spacingAndGlyphs">3680.00000</text>
<text x="3244.6" y="1276.1" font-size="17.0" fill="#555555" textLength="83.4" lengthAdjust="spacingAndGlyphs">3640.00000</text>
<text x="3244.6" y="1320.9" font-size="17.0" fill="#555555" textLength="83.4" lengthAdjust="spacingAndGlyphs">3600.00000</text>
<text x="3244.6" y="1365.0" font-size="17.0" fill="#555555" textLength="83.4" lengthAdjust="spacingAndGlyphs">3560.00000</text>
<text x="3244.4" y="1599.1" font-size="17.0" fill="#555555" textLength="100.7" lengthAdjust="spacingAndGlyphs">200000.00000</text>
<text x="3244.4" y="1673.1" font-size="17.0" fill="#555555" textLength="100.7" lengthAdjust="spacingAndGlyphs">100000.00000</text>
<text x="3244.4" y="1747.0" font-size="17.0" fill="#555555" textLength="57.3" lengthAdjust="spacingAndGlyphs">0.00000</text>
<text x="34.3" y="1451.4" font-size="17.0" fill="#555555" textLength="57.6" lengthAdjust="spacingAndGlyphs">0.00000</text>
<text x="17.4" y="1528.2" font-size="17.0" fill="#555555" textLength="74.5" lengthAdjust="spacingAndGlyphs">−10.00000</text>
<text x="1201.3" y="1777.0" font-size="17.0" fill="#555555" textLength="18.0" lengthAdjust="spacingAndGlyphs">14</text>
<text x="1355.5" y="1777.0" font-size="17.0" fill="#555555" textLength="18.0" lengthAdjust="spacingAndGlyphs">21</text>
<text x="1823.0" y="1777.0" font-size="17.0" fill="#555555" textLength="18.0" lengthAdjust="spacingAndGlyphs">11</text>
<text x="1979.0" y="1777.0" font-size="17.0" fill="#555555" textLength="18.0" lengthAdjust="spacingAndGlyphs">18</text>
<text x="2135.0" y="1777.0" font-size="17.0" fill="#555555" textLength="18.0" lengthAdjust="spacingAndGlyphs">25</text>
<text x="2450.2" y="1777.0" font-size="17.0" fill="#555555" textLength="8.5" lengthAdjust="spacingAndGlyphs">9</text>
<text x="2601.7" y="1777.0" font-size="17.0" fill="#555555" textLength="18.0" lengthAdjust="spacingAndGlyphs">16</text>
<text x="2757.2" y="1777.0" font-size="17.0" fill="#555555" textLength="18.0" lengthAdjust="spacingAndGlyphs">23</text>
<text x="3096.2" y="1777.0" font-size="17.0" fill="#555555" textLength="8.5" lengthAdjust="spacingAndGlyphs">7</text>
<text x="1596.0" y="1777.0" font-size="17.0" fill="#555555" font-weight="bold" textLength="27.0" lengthAdjust="spacingAndGlyphs">Apr</text>
<text x="2261.4" y="1777.0" font-size="17.0" fill="#555555" font-weight="bold" textLength="30.5" lengthAdjust="spacingAndGlyphs">May</text>
<text x="2952.5" y="1777.0" font-size="17.0" fill="#555555" font-weight="bold" textLength="28.0" lengthAdjust="spacingAndGlyphs">Jun</text>
<defs><clipPath id="ct"><rect x="107" y="1752" width="3122.8" height="40"/></clipPath></defs>
<g clip-path="url(#ct)">
<text x="3224.6" y="1777.0" font-size="17.0" fill="#555555" textLength="17.8" lengthAdjust="spacingAndGlyphs">13</text>
</g>
<circle cx="54.6" cy="1771.3" r="14.3" fill="#f0f3fa"/>
<text x="50.7" y="1777.1" font-size="16.3" fill="#434651" textLength="7.9" lengthAdjust="spacingAndGlyphs">Z</text>
<circle cx="3296" cy="1771" r="14.3" fill="#f0f3fa"/>
<text x="3291.4" y="1777.0" font-size="16.3" fill="#434651" textLength="9.0" lengthAdjust="spacingAndGlyphs">A</text>
<text x="26.9" y="1829.7" font-size="21.0" fill="#131722" textLength="22.4" lengthAdjust="spacingAndGlyphs">1D</text>
<text x="71.6" y="1829.7" font-size="21.0" fill="#131722" textLength="22.7" lengthAdjust="spacingAndGlyphs">5D</text>
<text x="117.0" y="1829.7" font-size="21.0" fill="#131722" textLength="24.5" lengthAdjust="spacingAndGlyphs">1M</text>
<text x="163.5" y="1829.7" font-size="21.0" fill="#131722" textLength="25.2" lengthAdjust="spacingAndGlyphs">3M</text>
<text x="209.6" y="1829.7" font-size="21.0" fill="#131722" textLength="26.2" lengthAdjust="spacingAndGlyphs">6M</text>
<text x="256.8" y="1829.7" font-size="21.0" fill="#131722" textLength="36.0" lengthAdjust="spacingAndGlyphs">YTD</text>
<text x="315.5" y="1829.7" font-size="21.0" fill="#131722" textLength="21.7" lengthAdjust="spacingAndGlyphs">1Y</text>
<text x="359.9" y="1829.7" font-size="21.0" fill="#131722" textLength="21.7" lengthAdjust="spacingAndGlyphs">5Y</text>
<text x="403.6" y="1829.7" font-size="21.0" fill="#131722" textLength="23.4" lengthAdjust="spacingAndGlyphs">All</text>
<rect x="451.70" y="1806.00" width="1.70" height="32.70" fill="#e0e3eb"/>
<g fill="none" stroke="#131722" stroke-width="1.5" stroke-linecap="round" stroke-linejoin="round"><path d="M479.3 1820.6V1815.7a3 3 0 0 1 3 -3H498.8a3 3 0 0 1 3 3V1829.3a3 3 0 0 1 -3 3H490.8M479.3 1818.6H501.8M485.3 1810.5V1814.7M495.7 1810.5V1814.7M477.4 1827.7H487.7M483.4 1822.6L488.2 1827.7L483.4 1832.8"/></g>
<text x="3003.3" y="1829.7" font-size="21.0" fill="#131722" textLength="159.5" lengthAdjust="spacingAndGlyphs">15:02:38 (UTC-4)</text>
<rect x="3187.20" y="1806.00" width="1.70" height="32.70" fill="#e0e3eb"/>
<text x="3213.6" y="1830.6" font-size="23.0" fill="#131722" textLength="19.4" lengthAdjust="spacingAndGlyphs">%</text>
<text x="3255.3" y="1829.5" font-size="21.0" fill="#131722" textLength="27.5" lengthAdjust="spacingAndGlyphs">log</text>
<text x="3304.5" y="1829.5" font-size="21.0" fill="#131722" textLength="41.2" lengthAdjust="spacingAndGlyphs">auto</text>
</svg>
</body></html>
